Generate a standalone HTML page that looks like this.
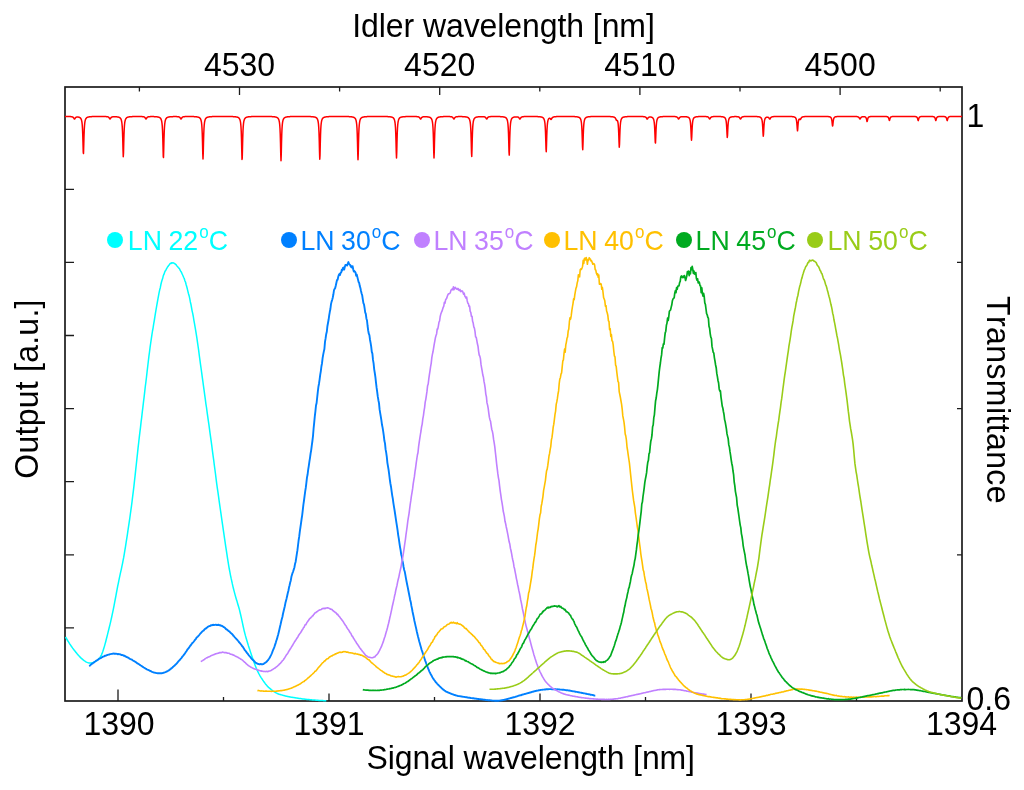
<!DOCTYPE html>
<html><head><meta charset="utf-8"><title>Output vs signal wavelength</title>
<style>
html,body{margin:0;padding:0;background:#fff;}
body{width:1024px;height:790px;position:relative;overflow:hidden;font-family:"Liberation Sans",Arial,sans-serif;color:#000;font-kerning:none;}
.t{position:absolute;font-size:32px;line-height:32px;white-space:nowrap;}
.t{transform:scaleY(1.04);}
.c{transform:translateX(-50%) scaleY(1.04);}
.dot{position:absolute;top:232.4px;width:16px;height:16px;border-radius:50%;}
.leg{position:absolute;top:225.7px;font-size:26.7px;line-height:30px;white-space:nowrap;word-spacing:-0.8px;transform:scaleY(1.04);}
.deg{font-size:17px;position:relative;top:-12.3px;line-height:0;margin:0 0 0 1px;}
</style></head><body>
<svg width="1024" height="790" viewBox="0 0 1024 790" style="position:absolute;left:0;top:0">
<g stroke="#1c1c1c" fill="none">
<rect x="65" y="87" width="897" height="614" stroke-width="1.7"/>
<path d="M118,701 V689.5 M329,701 V693.5 M540,701 V693.5 M751,701 V693.5 M223.5,701 V697 M434.5,701 V697 M645.5,701 V697 M856.5,701 V697 M239.5,87 V95 M439.7,87 V95 M639.9,87 V95 M840.1,87 V95 M139.4,87 V91.5 M339.6,87 V91.5 M539.8,87 V91.5 M740.0,87 V91.5 M940.2,87 V91.5 M65,627.9 H74 M65,554.8 H74 M65,481.7 H74 M65,408.6 H74 M65,335.5 H74 M65,262.4 H74 M65,189.3 H74 M962,554.8 H957 M962,408.6 H957 M962,262.4 H957" stroke-width="1.3"/>
</g>
<g fill="none" stroke-linejoin="round" stroke-linecap="butt">
<path d="M65.5,637.0 L66.1,638.0 L66.7,639.0 L67.3,640.0 L67.9,641.0 L68.5,641.9 L69.1,642.9 L69.7,643.9 L70.3,644.7 L70.9,645.6 L71.5,646.5 L72.1,647.3 L72.7,648.2 L73.3,648.9 L73.9,649.8 L74.5,650.6 L75.1,651.3 L75.7,652.1 L76.3,652.7 L76.9,653.5 L77.5,654.2 L78.1,654.9 L78.7,655.6 L79.3,656.3 L79.9,656.9 L80.5,657.5 L81.1,658.1 L81.7,658.7 L82.3,659.2 L82.9,659.7 L83.5,660.2 L84.1,660.6 L84.7,661.0 L85.3,661.4 L85.9,661.8 L86.5,662.1 L87.1,662.4 L87.7,662.6 L88.3,662.8 L88.9,662.9 L89.5,663.0 L90.1,663.0 L90.7,663.0 L91.3,662.9 L91.9,662.8 L92.5,662.6 L93.1,662.4 L93.7,662.1 L94.3,661.8 L94.9,661.6 L95.5,661.3 L96.1,660.9 L96.7,660.6 L97.3,660.2 L97.9,659.7 L98.5,659.2 L99.1,658.6 L99.7,657.9 L100.3,657.0 L100.9,656.0 L101.5,654.8 L102.1,653.4 L102.7,651.8 L103.3,650.0 L103.9,648.1 L104.5,646.1 L105.1,643.9 L105.7,641.7 L106.3,639.3 L106.9,637.0 L107.5,634.6 L108.1,632.1 L108.7,629.8 L109.3,627.3 L109.9,624.9 L110.5,622.3 L111.1,619.7 L111.7,617.0 L112.3,614.2 L112.9,611.4 L113.5,608.4 L114.1,605.3 L114.7,602.2 L115.3,599.0 L115.9,595.8 L116.5,592.5 L117.1,589.4 L117.7,586.2 L118.3,583.3 L118.9,580.3 L119.5,577.4 L120.1,574.7 L120.7,571.9 L121.3,569.3 L121.9,566.4 L122.5,563.6 L123.1,560.4 L123.7,557.4 L124.3,553.8 L124.9,550.2 L125.5,546.6 L126.1,542.7 L126.7,538.8 L127.3,535.1 L127.9,530.8 L128.5,526.8 L129.1,522.9 L129.7,518.8 L130.3,514.5 L130.9,510.1 L131.5,505.8 L132.1,501.2 L132.7,496.2 L133.3,491.4 L133.9,486.3 L134.5,480.9 L135.1,475.6 L135.7,469.9 L136.3,464.5 L136.9,458.8 L137.5,453.3 L138.1,447.7 L138.7,442.5 L139.3,437.2 L139.9,432.2 L140.5,427.4 L141.1,421.9 L141.7,417.3 L142.3,411.8 L142.9,407.2 L143.5,401.9 L144.1,397.1 L144.7,391.9 L145.3,386.5 L145.9,382.0 L146.5,377.0 L147.1,371.6 L147.7,366.5 L148.3,361.5 L148.9,356.3 L149.5,352.0 L150.1,347.2 L150.7,343.0 L151.3,338.8 L151.9,334.9 L152.5,331.0 L153.1,327.8 L153.7,323.9 L154.3,320.5 L154.9,316.6 L155.5,312.8 L156.1,309.3 L156.7,305.8 L157.3,302.5 L157.9,299.1 L158.5,295.9 L159.1,292.6 L159.7,289.8 L160.3,287.7 L160.9,284.5 L161.5,282.0 L162.1,280.0 L162.7,278.3 L163.3,275.7 L163.9,274.4 L164.5,272.7 L165.1,271.1 L165.7,270.5 L166.3,269.2 L166.9,268.2 L167.5,267.0 L168.1,266.4 L168.7,265.4 L169.3,264.7 L169.9,263.8 L170.5,263.3 L171.1,263.5 L171.7,262.8 L172.3,262.9 L172.9,262.8 L173.5,262.9 L174.1,263.2 L174.7,263.8 L175.3,264.0 L175.9,264.6 L176.5,265.3 L177.1,266.2 L177.7,266.8 L178.3,267.5 L178.9,268.1 L179.5,268.7 L180.1,270.2 L180.7,271.2 L181.3,272.0 L181.9,273.4 L182.5,274.7 L183.1,276.0 L183.7,277.5 L184.3,278.7 L184.9,280.8 L185.5,282.0 L186.1,284.5 L186.7,286.5 L187.3,288.8 L187.9,291.4 L188.5,293.8 L189.1,295.7 L189.7,298.3 L190.3,301.7 L190.9,304.2 L191.5,307.5 L192.1,310.8 L192.7,313.4 L193.3,316.5 L193.9,320.3 L194.5,323.6 L195.1,327.1 L195.7,330.7 L196.3,334.3 L196.9,338.1 L197.5,342.4 L198.1,346.5 L198.7,350.7 L199.3,355.5 L199.9,359.8 L200.5,364.3 L201.1,368.5 L201.7,372.9 L202.3,377.3 L202.9,381.7 L203.5,386.2 L204.1,390.4 L204.7,394.9 L205.3,399.2 L205.9,403.8 L206.5,407.5 L207.1,412.2 L207.7,416.3 L208.3,420.6 L208.9,424.7 L209.5,429.1 L210.1,433.6 L210.7,437.8 L211.3,442.2 L211.9,446.6 L212.5,451.4 L213.1,455.8 L213.7,460.2 L214.3,465.0 L214.9,469.5 L215.5,474.0 L216.1,478.9 L216.7,483.6 L217.3,487.8 L217.9,491.9 L218.5,496.2 L219.1,500.7 L219.7,504.8 L220.3,509.0 L220.9,513.2 L221.5,517.3 L222.1,521.6 L222.7,525.7 L223.3,529.8 L223.9,533.8 L224.5,538.1 L225.1,542.1 L225.7,546.3 L226.3,550.1 L226.9,554.2 L227.5,558.1 L228.1,561.8 L228.7,565.6 L229.3,569.0 L229.9,572.1 L230.5,575.3 L231.1,578.2 L231.7,580.8 L232.3,583.7 L232.9,586.3 L233.5,588.8 L234.1,591.1 L234.7,593.4 L235.3,595.6 L235.9,597.7 L236.5,599.7 L237.1,601.6 L237.7,603.7 L238.3,605.7 L238.9,607.8 L239.5,609.9 L240.1,612.5 L240.7,615.0 L241.3,617.7 L241.9,620.4 L242.5,623.2 L243.1,626.0 L243.7,628.7 L244.3,631.3 L244.9,633.6 L245.5,635.9 L246.1,638.0 L246.7,640.0 L247.3,642.0 L247.9,643.9 L248.5,645.9 L249.1,647.7 L249.7,649.6 L250.3,651.4 L250.9,653.2 L251.5,655.0 L252.1,656.8 L252.7,658.6 L253.3,660.3 L253.9,662.0 L254.5,663.6 L255.1,665.2 L255.7,666.7 L256.3,668.2 L256.9,669.6 L257.5,670.9 L258.1,672.2 L258.7,673.4 L259.3,674.5 L259.9,675.6 L260.5,676.6 L261.1,677.6 L261.7,678.5 L262.3,679.4 L262.9,680.3 L263.5,681.2 L264.1,682.0 L264.7,682.8 L265.3,683.7 L265.9,684.4 L266.5,685.1 L267.1,685.9 L267.7,686.5 L268.3,687.1 L268.9,687.7 L269.5,688.2 L270.1,688.7 L270.7,689.2 L271.3,689.7 L271.9,690.1 L272.5,690.5 L273.1,691.0 L273.7,691.4 L274.3,691.8 L274.9,692.2 L275.5,692.5 L276.1,692.9 L276.7,693.2 L277.3,693.5 L277.9,693.7 L278.5,694.0 L279.1,694.2 L279.7,694.4 L280.3,694.5 L280.9,694.7 L281.5,694.9 L282.1,695.1 L282.7,695.2 L283.3,695.4 L283.9,695.5 L284.5,695.7 L285.1,695.9 L285.7,696.0 L286.3,696.2 L286.9,696.3 L287.5,696.5 L288.1,696.6 L288.7,696.7 L289.3,696.8 L289.9,697.0 L290.5,697.1 L291.1,697.2 L291.7,697.3 L292.3,697.3 L292.9,697.4 L293.5,697.5 L294.1,697.6 L294.7,697.7 L295.3,697.8 L295.9,697.9 L296.5,698.0 L297.1,698.1 L297.7,698.2 L298.3,698.3 L298.9,698.4 L299.5,698.5 L300.1,698.5 L300.7,698.6 L301.3,698.7 L301.9,698.8 L302.5,698.9 L303.1,698.9 L303.7,699.0 L304.3,699.1 L304.9,699.2 L305.5,699.2 L306.1,699.3 L306.7,699.4 L307.3,699.4 L307.9,699.5 L308.5,699.5 L309.1,699.6 L309.7,699.7 L310.3,699.7 L310.9,699.7 L311.5,699.8 L312.1,699.9 L312.7,699.9 L313.3,700.0 L313.9,700.0 L314.5,700.1 L315.1,700.1 L315.7,700.2 L316.3,700.2 L316.9,700.2 L317.5,700.3 L318.1,700.3 L318.7,700.4 L319.3,700.4 L319.9,700.5 L320.5,700.5 L321.1,700.5 L321.7,700.6 L322.3,700.6 L322.9,700.6 L323.5,700.7 L324.1,700.7 L324.7,700.7 L325.3,700.8 L325.9,700.8 L326.3,700.8" stroke="#00ffff" stroke-width="1.5"/>
<path d="M89.2,666.2 L89.8,665.8 L90.4,665.0 L91.0,664.7 L91.6,664.1 L92.2,663.6 L92.8,663.3 L93.4,662.7 L94.0,662.5 L94.6,661.8 L95.2,661.5 L95.8,661.0 L96.4,660.6 L97.0,660.3 L97.6,659.9 L98.2,659.6 L98.8,659.1 L99.4,658.6 L100.0,658.4 L100.6,658.1 L101.2,657.8 L101.8,657.3 L102.4,657.1 L103.0,656.6 L103.6,656.6 L104.2,656.2 L104.8,655.8 L105.4,655.8 L106.0,655.7 L106.6,655.1 L107.2,655.0 L107.8,654.8 L108.4,654.6 L109.0,654.6 L109.6,654.3 L110.2,654.1 L110.8,654.1 L111.4,653.9 L112.0,653.9 L112.6,653.7 L113.2,653.6 L113.8,653.5 L114.4,653.9 L115.0,653.7 L115.6,653.8 L116.2,653.8 L116.8,653.9 L117.4,654.0 L118.0,654.3 L118.6,654.0 L119.2,654.1 L119.8,654.3 L120.4,654.4 L121.0,654.8 L121.6,655.0 L122.2,655.0 L122.8,655.1 L123.4,655.5 L124.0,655.9 L124.6,655.7 L125.2,656.4 L125.8,656.5 L126.4,657.0 L127.0,657.1 L127.6,657.5 L128.2,657.7 L128.8,658.0 L129.4,658.6 L130.0,658.9 L130.6,659.1 L131.2,659.4 L131.8,659.6 L132.4,660.1 L133.0,660.5 L133.6,660.8 L134.2,661.2 L134.8,661.5 L135.4,661.9 L136.0,662.3 L136.6,662.8 L137.2,663.3 L137.8,663.5 L138.4,663.8 L139.0,664.3 L139.6,664.7 L140.2,665.1 L140.8,665.5 L141.4,665.8 L142.0,666.4 L142.6,666.7 L143.2,667.1 L143.8,667.5 L144.4,667.8 L145.0,668.2 L145.6,668.6 L146.2,668.9 L146.8,669.3 L147.4,669.6 L148.0,669.8 L148.6,670.2 L149.2,670.4 L149.8,670.8 L150.4,671.0 L151.0,671.2 L151.6,671.6 L152.2,671.9 L152.8,672.1 L153.4,672.3 L154.0,672.5 L154.6,672.6 L155.2,672.8 L155.8,672.9 L156.4,673.1 L157.0,673.1 L157.6,673.2 L158.2,673.3 L158.8,673.3 L159.4,673.3 L160.0,673.4 L160.6,673.2 L161.2,673.3 L161.8,673.2 L162.4,673.1 L163.0,673.0 L163.6,672.7 L164.2,672.6 L164.8,672.4 L165.4,672.2 L166.0,671.9 L166.6,671.5 L167.2,671.3 L167.8,671.0 L168.4,670.7 L169.0,670.2 L169.6,669.7 L170.2,669.4 L170.8,668.9 L171.4,668.2 L172.0,668.0 L172.6,667.3 L173.2,666.8 L173.8,666.2 L174.4,665.8 L175.0,665.1 L175.6,664.5 L176.2,664.0 L176.8,663.4 L177.4,662.6 L178.0,661.9 L178.6,661.2 L179.2,660.5 L179.8,660.0 L180.4,659.2 L181.0,658.5 L181.6,657.8 L182.2,656.9 L182.8,656.2 L183.4,655.5 L184.0,654.6 L184.6,653.9 L185.2,653.0 L185.8,652.0 L186.4,651.3 L187.0,650.3 L187.6,649.3 L188.2,648.8 L188.8,647.9 L189.4,647.1 L190.0,646.1 L190.6,645.5 L191.2,644.6 L191.8,643.8 L192.4,642.9 L193.0,642.4 L193.6,641.8 L194.2,641.0 L194.8,640.1 L195.4,639.4 L196.0,638.8 L196.6,637.5 L197.2,637.2 L197.8,636.6 L198.4,635.9 L199.0,635.3 L199.6,634.5 L200.2,633.7 L200.8,633.1 L201.4,632.5 L202.0,631.7 L202.6,631.2 L203.2,630.8 L203.8,630.4 L204.4,629.5 L205.0,629.0 L205.6,628.5 L206.2,628.3 L206.8,627.6 L207.4,627.4 L208.0,626.6 L208.6,626.4 L209.2,626.1 L209.8,626.0 L210.4,625.9 L211.0,625.2 L211.6,625.1 L212.2,625.2 L212.8,624.9 L213.4,624.7 L214.0,625.1 L214.6,624.9 L215.2,624.9 L215.8,624.7 L216.4,625.0 L217.0,624.8 L217.6,625.1 L218.2,624.8 L218.8,624.8 L219.4,625.2 L220.0,625.1 L220.6,625.6 L221.2,625.7 L221.8,625.7 L222.4,626.2 L223.0,626.5 L223.6,627.1 L224.2,627.2 L224.8,627.7 L225.4,628.4 L226.0,629.1 L226.6,629.5 L227.2,629.7 L227.8,630.2 L228.4,631.0 L229.0,631.2 L229.6,631.6 L230.2,632.4 L230.8,633.0 L231.4,633.4 L232.0,633.9 L232.6,634.6 L233.2,635.6 L233.8,636.0 L234.4,636.8 L235.0,637.5 L235.6,638.2 L236.2,638.7 L236.8,639.5 L237.4,640.0 L238.0,640.8 L238.6,641.4 L239.2,642.4 L239.8,643.0 L240.4,643.7 L241.0,644.5 L241.6,645.3 L242.2,646.3 L242.8,646.8 L243.4,647.7 L244.0,648.7 L244.6,649.9 L245.2,650.5 L245.8,651.2 L246.4,652.1 L247.0,653.1 L247.6,653.6 L248.2,654.4 L248.8,655.3 L249.4,656.0 L250.0,656.7 L250.6,657.3 L251.2,658.3 L251.8,658.9 L252.4,659.4 L253.0,660.1 L253.6,660.4 L254.2,661.3 L254.8,661.8 L255.4,662.4 L256.0,662.9 L256.6,663.3 L257.2,663.5 L257.8,663.9 L258.4,664.0 L259.0,664.2 L259.6,664.2 L260.2,664.2 L260.8,664.0 L261.4,664.3 L262.0,664.2 L262.6,664.2 L263.2,664.1 L263.8,663.7 L264.4,663.2 L265.0,662.9 L265.6,662.5 L266.2,662.1 L266.8,661.6 L267.4,660.7 L268.0,660.3 L268.6,659.3 L269.2,658.5 L269.8,657.5 L270.4,656.3 L271.0,655.1 L271.6,653.8 L272.2,652.4 L272.8,650.7 L273.4,649.3 L274.0,647.9 L274.6,646.3 L275.2,644.4 L275.8,642.6 L276.4,640.5 L277.0,638.9 L277.6,636.5 L278.2,634.4 L278.8,632.0 L279.4,629.5 L280.0,626.8 L280.6,624.3 L281.2,621.5 L281.8,619.0 L282.4,617.0 L283.0,613.8 L283.6,611.2 L284.2,608.7 L284.8,606.2 L285.4,603.1 L286.0,600.7 L286.6,598.4 L287.2,595.7 L287.8,593.0 L288.4,590.8 L289.0,587.6 L289.6,585.2 L290.2,582.4 L290.8,580.4 L291.4,576.8 L292.0,574.8 L292.6,572.8 L293.2,571.3 L293.8,569.4 L294.4,567.5 L295.0,564.1 L295.6,562.0 L296.2,558.1 L296.8,554.1 L297.4,550.4 L298.0,545.5 L298.6,540.5 L299.2,536.7 L299.8,531.6 L300.4,527.5 L301.0,523.4 L301.6,519.0 L302.2,515.1 L302.8,509.8 L303.4,504.6 L304.0,500.5 L304.6,495.9 L305.2,491.3 L305.8,487.7 L306.4,482.6 L307.0,477.4 L307.6,474.5 L308.2,469.7 L308.8,465.9 L309.4,461.6 L310.0,457.9 L310.6,453.5 L311.2,450.1 L311.8,445.4 L312.4,441.0 L313.0,436.0 L313.6,428.5 L314.2,422.7 L314.8,416.3 L315.4,411.4 L316.0,405.5 L316.6,403.0 L317.2,397.3 L317.8,391.8 L318.4,386.9 L319.0,383.7 L319.6,379.6 L320.2,374.8 L320.8,371.3 L321.4,366.5 L322.0,363.4 L322.6,358.2 L323.2,354.7 L323.8,351.6 L324.4,349.0 L325.0,341.9 L325.6,338.4 L326.2,334.2 L326.8,331.8 L327.4,326.2 L328.0,323.0 L328.6,319.8 L329.2,315.3 L329.8,311.8 L330.4,309.0 L331.0,304.1 L331.6,301.6 L332.2,299.7 L332.8,297.4 L333.4,294.3 L334.0,290.1 L334.6,288.9 L335.2,287.9 L335.8,285.5 L336.4,282.8 L337.0,280.0 L337.6,279.9 L338.2,277.0 L338.8,274.9 L339.4,273.9 L340.0,275.1 L340.6,272.6 L341.2,272.6 L341.8,269.8 L342.4,270.4 L343.0,267.8 L343.6,267.5 L344.2,269.6 L344.8,267.0 L345.4,265.0 L346.0,264.9 L346.6,264.9 L347.2,265.6 L347.8,263.5 L348.4,262.1 L349.0,263.8 L349.6,264.4 L350.2,264.9 L350.8,266.7 L351.4,266.2 L352.0,267.5 L352.6,266.2 L353.2,269.2 L353.8,271.5 L354.4,271.1 L355.0,271.7 L355.6,272.8 L356.2,275.9 L356.8,274.6 L357.4,277.1 L358.0,279.6 L358.6,282.0 L359.2,283.0 L359.8,286.1 L360.4,288.0 L361.0,291.0 L361.6,293.5 L362.2,295.3 L362.8,299.3 L363.4,303.2 L364.0,304.4 L364.6,308.2 L365.2,312.3 L365.8,313.9 L366.4,318.4 L367.0,320.5 L367.6,326.0 L368.2,330.5 L368.8,333.7 L369.4,335.2 L370.0,339.7 L370.6,342.9 L371.2,346.7 L371.8,351.9 L372.4,353.6 L373.0,359.9 L373.6,363.4 L374.2,369.3 L374.8,373.0 L375.4,377.1 L376.0,382.6 L376.6,387.7 L377.2,391.8 L377.8,396.7 L378.4,400.2 L379.0,403.1 L379.6,409.4 L380.2,413.1 L380.8,416.6 L381.4,420.3 L382.0,424.8 L382.6,427.6 L383.2,431.4 L383.8,435.7 L384.4,440.8 L385.0,443.4 L385.6,449.4 L386.2,452.7 L386.8,456.9 L387.4,462.8 L388.0,466.3 L388.6,469.9 L389.2,474.5 L389.8,479.3 L390.4,483.5 L391.0,486.7 L391.6,491.1 L392.2,495.3 L392.8,498.6 L393.4,503.1 L394.0,506.8 L394.6,510.5 L395.2,514.5 L395.8,518.7 L396.4,522.6 L397.0,526.3 L397.6,530.4 L398.2,535.1 L398.8,538.7 L399.4,542.9 L400.0,546.8 L400.6,550.2 L401.2,554.4 L401.8,556.6 L402.4,560.4 L403.0,563.1 L403.6,567.0 L404.2,570.0 L404.8,571.8 L405.4,575.2 L406.0,578.7 L406.6,581.8 L407.2,584.8 L407.8,587.6 L408.4,590.8 L409.0,593.8 L409.6,596.7 L410.2,600.0 L410.8,602.2 L411.4,605.9 L412.0,608.6 L412.6,612.0 L413.2,614.8 L413.8,617.6 L414.4,620.8 L415.0,623.4 L415.6,626.1 L416.2,628.6 L416.8,631.5 L417.4,634.0 L418.0,636.5 L418.6,638.7 L419.2,641.2 L419.8,643.3 L420.4,645.4 L421.0,647.6 L421.6,649.7 L422.2,651.4 L422.8,653.3 L423.4,655.2 L424.0,657.0 L424.6,658.7 L425.2,660.6 L425.8,662.2 L426.4,664.0 L427.0,665.5 L427.6,667.1 L428.2,668.7 L428.8,670.0 L429.4,671.6 L430.0,672.7 L430.6,674.0 L431.2,675.1 L431.8,676.1 L432.4,677.2 L433.0,678.2 L433.6,679.1 L434.2,680.0 L434.8,680.8 L435.4,681.6 L436.0,682.4 L436.6,683.0 L437.2,683.8 L437.8,684.4 L438.4,685.0 L439.0,685.6 L439.6,686.2 L440.2,686.7 L440.8,687.3 L441.4,687.9 L442.0,688.4 L442.6,688.9 L443.2,689.6 L443.8,689.9 L444.4,690.5 L445.0,690.8 L445.6,691.3 L446.2,691.6 L446.8,691.9 L447.4,692.2 L448.0,692.5 L448.6,692.7 L449.2,693.0 L449.8,693.2 L450.4,693.5 L451.0,693.7 L451.6,694.0 L452.2,694.1 L452.8,694.4 L453.4,694.5 L454.0,694.8 L454.6,695.0 L455.2,695.2 L455.8,695.3 L456.4,695.5 L457.0,695.6 L457.6,695.8 L458.2,696.1 L458.8,696.1 L459.4,696.1 L460.0,696.2 L460.6,696.4 L461.2,696.5 L461.8,696.5 L462.4,696.6 L463.0,696.8 L463.6,696.9 L464.2,696.9 L464.8,697.0 L465.4,697.1 L466.0,697.2 L466.6,697.2 L467.2,697.5 L467.8,697.5 L468.4,697.6 L469.0,697.8 L469.6,697.8 L470.2,697.8 L470.8,698.0 L471.4,698.1 L472.0,698.1 L472.6,698.2 L473.2,698.3 L473.8,698.3 L474.4,698.5 L475.0,698.5 L475.6,698.6 L476.2,698.7 L476.8,698.8 L477.4,698.9 L478.0,699.0 L478.6,699.0 L479.2,699.2 L479.8,699.1 L480.4,699.3 L481.0,699.3 L481.6,699.4 L482.2,699.5 L482.8,699.5 L483.4,699.6 L484.0,699.7 L484.6,699.8 L485.2,699.8 L485.8,700.0 L486.4,700.1 L487.0,700.0 L487.6,700.1 L488.2,700.3 L488.8,700.3 L489.4,700.3 L490.0,700.3 L490.6,700.4 L491.2,700.4 L491.8,700.5 L492.4,700.6 L493.0,700.6 L493.6,700.6 L494.2,700.6 L494.8,700.7 L495.4,700.7 L496.0,700.7 L496.6,700.8 L497.2,700.7 L497.8,700.7 L498.4,700.7 L499.0,700.6 L499.6,700.6 L500.2,700.5 L500.8,700.5 L501.4,700.3 L502.0,700.3 L502.6,700.2 L503.2,700.0 L503.8,699.9 L504.4,699.8 L505.0,699.7 L505.6,699.5 L506.2,699.4 L506.8,699.2 L507.4,699.0 L508.0,698.9 L508.6,698.6 L509.2,698.5 L509.8,698.4 L510.4,698.2 L511.0,698.0 L511.6,697.8 L512.2,697.7 L512.8,697.5 L513.4,697.3 L514.0,697.2 L514.6,697.1 L515.2,696.9 L515.8,696.6 L516.4,696.5 L517.0,696.3 L517.6,696.1 L518.2,695.9 L518.8,695.7 L519.4,695.5 L520.0,695.4 L520.6,695.2 L521.2,695.2 L521.8,694.8 L522.4,694.7 L523.0,694.5 L523.6,694.4 L524.2,694.2 L524.8,694.0 L525.4,693.8 L526.0,693.6 L526.6,693.5 L527.2,693.4 L527.8,693.2 L528.4,693.0 L529.0,692.8 L529.6,692.7 L530.2,692.5 L530.8,692.3 L531.4,692.2 L532.0,691.9 L532.6,691.8 L533.2,691.7 L533.8,691.4 L534.4,691.3 L535.0,691.2 L535.6,691.0 L536.2,690.8 L536.8,690.7 L537.4,690.6 L538.0,690.5 L538.6,690.3 L539.2,690.2 L539.8,690.1 L540.4,690.0 L541.0,689.9 L541.6,689.9 L542.2,689.8 L542.8,689.6 L543.4,689.6 L544.0,689.6 L544.6,689.5 L545.2,689.5 L545.8,689.3 L546.4,689.3 L547.0,689.3 L547.6,689.2 L548.2,689.2 L548.8,689.1 L549.4,689.1 L550.0,689.1 L550.6,689.1 L551.2,689.1 L551.8,689.2 L552.4,689.2 L553.0,689.1 L553.6,689.2 L554.2,689.2 L554.8,689.2 L555.4,689.2 L556.0,689.3 L556.6,689.4 L557.2,689.4 L557.8,689.3 L558.4,689.4 L559.0,689.4 L559.6,689.5 L560.2,689.6 L560.8,689.6 L561.4,689.6 L562.0,689.7 L562.6,689.8 L563.2,689.8 L563.8,689.8 L564.4,689.9 L565.0,690.0 L565.6,690.1 L566.2,690.2 L566.8,690.3 L567.4,690.3 L568.0,690.4 L568.6,690.5 L569.2,690.5 L569.8,690.7 L570.4,690.8 L571.0,690.9 L571.6,691.0 L572.2,691.1 L572.8,691.2 L573.4,691.4 L574.0,691.4 L574.6,691.5 L575.2,691.7 L575.8,691.8 L576.4,691.9 L577.0,691.9 L577.6,692.1 L578.2,692.2 L578.8,692.3 L579.4,692.4 L580.0,692.6 L580.6,692.6 L581.2,692.7 L581.8,693.0 L582.4,693.0 L583.0,693.1 L583.6,693.3 L584.2,693.4 L584.8,693.4 L585.4,693.6 L586.0,693.7 L586.6,693.8 L587.2,694.0 L587.8,694.1 L588.4,694.2 L589.0,694.3 L589.6,694.4 L590.2,694.7 L590.8,694.6 L591.4,694.9 L592.0,694.9 L592.6,695.0 L593.2,695.2 L593.8,695.3 L594.4,695.5 L595.0,695.6 L595.3,695.6" stroke="#0080ff" stroke-width="1.9"/>
<path d="M200.8,661.6 L201.4,661.3 L202.0,660.9 L202.6,660.6 L203.2,660.1 L203.8,659.8 L204.4,659.5 L205.0,658.9 L205.6,658.4 L206.2,658.1 L206.8,657.7 L207.4,657.7 L208.0,657.1 L208.6,657.0 L209.2,656.7 L209.8,656.5 L210.4,656.1 L211.0,655.7 L211.6,655.4 L212.2,655.2 L212.8,655.0 L213.4,654.7 L214.0,654.5 L214.6,654.5 L215.2,653.9 L215.8,653.9 L216.4,653.6 L217.0,653.5 L217.6,653.4 L218.2,653.1 L218.8,653.1 L219.4,652.6 L220.0,652.8 L220.6,652.5 L221.2,652.6 L221.8,652.5 L222.4,652.1 L223.0,652.3 L223.6,652.4 L224.2,652.6 L224.8,652.5 L225.4,652.6 L226.0,652.5 L226.6,652.9 L227.2,653.1 L227.8,653.1 L228.4,653.2 L229.0,653.2 L229.6,653.7 L230.2,654.1 L230.8,654.1 L231.4,654.4 L232.0,654.5 L232.6,654.6 L233.2,655.2 L233.8,655.1 L234.4,655.5 L235.0,655.9 L235.6,656.2 L236.2,656.5 L236.8,656.8 L237.4,657.0 L238.0,657.3 L238.6,657.8 L239.2,658.1 L239.8,658.4 L240.4,658.8 L241.0,659.3 L241.6,659.5 L242.2,660.0 L242.8,660.4 L243.4,661.1 L244.0,661.6 L244.6,662.3 L245.2,662.5 L245.8,663.2 L246.4,663.9 L247.0,664.3 L247.6,664.8 L248.2,665.5 L248.8,665.8 L249.4,666.2 L250.0,666.5 L250.6,667.0 L251.2,667.4 L251.8,667.6 L252.4,667.9 L253.0,668.3 L253.6,668.6 L254.2,668.7 L254.8,669.0 L255.4,669.3 L256.0,669.3 L256.6,669.6 L257.2,669.9 L257.8,670.0 L258.4,670.1 L259.0,670.4 L259.6,670.6 L260.2,670.9 L260.8,670.7 L261.4,671.2 L262.0,671.1 L262.6,671.3 L263.2,671.4 L263.8,671.5 L264.4,671.5 L265.0,671.4 L265.6,671.6 L266.2,671.5 L266.8,671.3 L267.4,671.7 L268.0,671.4 L268.6,671.4 L269.2,671.0 L269.8,671.0 L270.4,670.8 L271.0,670.5 L271.6,670.1 L272.2,669.7 L272.8,669.5 L273.4,668.9 L274.0,668.6 L274.6,668.3 L275.2,667.8 L275.8,667.3 L276.4,666.9 L277.0,666.5 L277.6,666.0 L278.2,665.3 L278.8,664.9 L279.4,664.1 L280.0,663.6 L280.6,663.1 L281.2,662.2 L281.8,661.6 L282.4,660.8 L283.0,660.2 L283.6,659.5 L284.2,658.4 L284.8,657.7 L285.4,656.6 L286.0,655.6 L286.6,654.6 L287.2,654.0 L287.8,653.2 L288.4,652.0 L289.0,650.9 L289.6,650.1 L290.2,649.0 L290.8,648.2 L291.4,647.2 L292.0,646.2 L292.6,645.3 L293.2,644.2 L293.8,643.2 L294.4,642.1 L295.0,641.3 L295.6,640.2 L296.2,639.4 L296.8,638.4 L297.4,637.6 L298.0,636.7 L298.6,635.4 L299.2,634.6 L299.8,633.6 L300.4,632.9 L301.0,632.1 L301.6,631.0 L302.2,629.9 L302.8,629.3 L303.4,627.8 L304.0,627.4 L304.6,626.0 L305.2,624.7 L305.8,624.8 L306.4,623.7 L307.0,622.3 L307.6,621.7 L308.2,620.8 L308.8,620.1 L309.4,619.0 L310.0,618.4 L310.6,618.0 L311.2,617.2 L311.8,616.8 L312.4,615.9 L313.0,615.8 L313.6,614.5 L314.2,614.1 L314.8,613.1 L315.4,612.7 L316.0,612.7 L316.6,611.7 L317.2,611.6 L317.8,611.1 L318.4,610.5 L319.0,610.3 L319.6,610.0 L320.2,609.7 L320.8,609.7 L321.4,609.4 L322.0,608.8 L322.6,608.5 L323.2,608.6 L323.8,608.3 L324.4,608.4 L325.0,608.7 L325.6,608.2 L326.2,608.0 L326.8,608.0 L327.4,607.9 L328.0,607.9 L328.6,608.1 L329.2,608.4 L329.8,608.6 L330.4,609.1 L331.0,609.1 L331.6,609.5 L332.2,609.6 L332.8,610.7 L333.4,610.8 L334.0,611.6 L334.6,611.8 L335.2,612.5 L335.8,612.6 L336.4,613.4 L337.0,614.4 L337.6,614.1 L338.2,615.3 L338.8,616.1 L339.4,616.5 L340.0,617.4 L340.6,618.3 L341.2,618.8 L341.8,619.9 L342.4,620.5 L343.0,621.4 L343.6,622.3 L344.2,623.3 L344.8,624.3 L345.4,625.2 L346.0,625.8 L346.6,627.3 L347.2,628.1 L347.8,629.0 L348.4,629.7 L349.0,630.7 L349.6,631.8 L350.2,632.7 L350.8,633.3 L351.4,634.7 L352.0,636.1 L352.6,636.3 L353.2,637.7 L353.8,638.6 L354.4,639.5 L355.0,640.7 L355.6,641.3 L356.2,642.4 L356.8,643.6 L357.4,644.3 L358.0,645.1 L358.6,646.1 L359.2,646.9 L359.8,648.0 L360.4,648.5 L361.0,649.5 L361.6,650.1 L362.2,651.1 L362.8,651.8 L363.4,652.2 L364.0,653.3 L364.6,653.9 L365.2,654.7 L365.8,655.5 L366.4,655.7 L367.0,656.1 L367.6,656.7 L368.2,656.9 L368.8,657.3 L369.4,657.3 L370.0,657.4 L370.6,657.6 L371.2,657.8 L371.8,657.8 L372.4,657.7 L373.0,657.6 L373.6,657.3 L374.2,657.0 L374.8,656.9 L375.4,656.1 L376.0,655.4 L376.6,654.9 L377.2,654.3 L377.8,653.5 L378.4,652.5 L379.0,651.4 L379.6,650.4 L380.2,649.0 L380.8,647.8 L381.4,646.7 L382.0,645.0 L382.6,643.5 L383.2,641.9 L383.8,640.0 L384.4,638.0 L385.0,636.5 L385.6,634.3 L386.2,632.1 L386.8,630.2 L387.4,628.0 L388.0,625.5 L388.6,623.3 L389.2,620.8 L389.8,617.8 L390.4,615.4 L391.0,612.7 L391.6,609.9 L392.2,606.8 L392.8,604.3 L393.4,601.6 L394.0,598.9 L394.6,595.8 L395.2,593.5 L395.8,590.2 L396.4,587.7 L397.0,585.4 L397.6,582.1 L398.2,579.5 L398.8,577.3 L399.4,574.2 L400.0,571.4 L400.6,568.8 L401.2,566.1 L401.8,561.9 L402.4,559.1 L403.0,555.6 L403.6,551.8 L404.2,547.8 L404.8,543.5 L405.4,539.6 L406.0,534.6 L406.6,530.5 L407.2,526.2 L407.8,521.2 L408.4,517.3 L409.0,513.8 L409.6,509.1 L410.2,504.5 L410.8,500.7 L411.4,496.1 L412.0,492.7 L412.6,488.9 L413.2,483.9 L413.8,480.1 L414.4,476.7 L415.0,471.7 L415.6,468.0 L416.2,463.1 L416.8,459.0 L417.4,455.0 L418.0,452.5 L418.6,446.7 L419.2,442.4 L419.8,438.3 L420.4,434.5 L421.0,431.0 L421.6,426.7 L422.2,424.1 L422.8,418.8 L423.4,415.8 L424.0,411.2 L424.6,407.6 L425.2,402.2 L425.8,399.3 L426.4,395.4 L427.0,391.2 L427.6,385.7 L428.2,384.0 L428.8,378.8 L429.4,374.7 L430.0,370.8 L430.6,366.7 L431.2,363.3 L431.8,357.9 L432.4,354.4 L433.0,351.8 L433.6,348.2 L434.2,344.4 L434.8,341.1 L435.4,337.8 L436.0,335.6 L436.6,333.9 L437.2,329.1 L437.8,328.9 L438.4,325.8 L439.0,322.2 L439.6,321.0 L440.2,316.5 L440.8,314.1 L441.4,312.4 L442.0,311.2 L442.6,309.3 L443.2,307.3 L443.8,306.1 L444.4,302.2 L445.0,303.2 L445.6,299.8 L446.2,299.1 L446.8,298.0 L447.4,296.0 L448.0,294.6 L448.6,293.8 L449.2,293.7 L449.8,293.4 L450.4,292.4 L451.0,290.1 L451.6,289.6 L452.2,288.9 L452.8,289.8 L453.4,286.8 L454.0,289.8 L454.6,287.8 L455.2,287.3 L455.8,288.4 L456.4,289.1 L457.0,288.4 L457.6,289.3 L458.2,288.6 L458.8,290.1 L459.4,290.5 L460.0,289.5 L460.6,291.6 L461.2,290.9 L461.8,291.4 L462.4,291.0 L463.0,292.4 L463.6,294.3 L464.2,293.1 L464.8,296.1 L465.4,296.9 L466.0,298.1 L466.6,297.0 L467.2,300.7 L467.8,303.1 L468.4,303.6 L469.0,306.4 L469.6,306.1 L470.2,311.3 L470.8,312.3 L471.4,316.3 L472.0,316.2 L472.6,321.3 L473.2,323.1 L473.8,326.9 L474.4,328.2 L475.0,331.4 L475.6,337.0 L476.2,337.2 L476.8,340.3 L477.4,343.8 L478.0,346.2 L478.6,351.3 L479.2,355.0 L479.8,356.1 L480.4,358.6 L481.0,364.4 L481.6,367.8 L482.2,371.1 L482.8,375.0 L483.4,377.0 L484.0,381.4 L484.6,384.3 L485.2,388.3 L485.8,394.1 L486.4,396.7 L487.0,402.9 L487.6,405.1 L488.2,408.4 L488.8,413.2 L489.4,417.4 L490.0,419.7 L490.6,421.6 L491.2,425.8 L491.8,429.5 L492.4,431.4 L493.0,434.6 L493.6,439.4 L494.2,442.9 L494.8,446.8 L495.4,452.5 L496.0,457.6 L496.6,463.6 L497.2,468.4 L497.8,473.4 L498.4,477.6 L499.0,480.7 L499.6,486.2 L500.2,490.8 L500.8,494.8 L501.4,499.3 L502.0,502.6 L502.6,506.3 L503.2,511.0 L503.8,513.7 L504.4,516.6 L505.0,521.3 L505.6,523.5 L506.2,526.7 L506.8,529.3 L507.4,532.3 L508.0,535.4 L508.6,538.8 L509.2,542.1 L509.8,544.0 L510.4,548.2 L511.0,550.5 L511.6,553.6 L512.2,557.2 L512.8,560.0 L513.4,562.5 L514.0,566.7 L514.6,568.8 L515.2,572.2 L515.8,575.2 L516.4,578.6 L517.0,581.1 L517.6,584.5 L518.2,587.0 L518.8,590.4 L519.4,592.9 L520.0,595.9 L520.6,599.5 L521.2,602.1 L521.8,605.1 L522.4,608.7 L523.0,611.3 L523.6,614.1 L524.2,617.4 L524.8,619.9 L525.4,623.1 L526.0,625.6 L526.6,627.7 L527.2,630.0 L527.8,632.4 L528.4,634.6 L529.0,636.6 L529.6,639.1 L530.2,641.0 L530.8,643.4 L531.4,645.7 L532.0,647.9 L532.6,650.1 L533.2,652.1 L533.8,654.4 L534.4,656.3 L535.0,658.3 L535.6,660.1 L536.2,661.9 L536.8,663.8 L537.4,665.3 L538.0,667.0 L538.6,668.5 L539.2,669.9 L539.8,671.3 L540.4,672.5 L541.0,673.7 L541.6,675.0 L542.2,676.1 L542.8,677.2 L543.4,678.2 L544.0,679.2 L544.6,680.1 L545.2,681.0 L545.8,681.7 L546.4,682.4 L547.0,683.1 L547.6,683.7 L548.2,684.4 L548.8,684.9 L549.4,685.6 L550.0,686.1 L550.6,686.7 L551.2,687.1 L551.8,687.6 L552.4,688.2 L553.0,688.5 L553.6,688.8 L554.2,689.2 L554.8,689.6 L555.4,690.0 L556.0,690.2 L556.6,690.6 L557.2,690.8 L557.8,691.2 L558.4,691.6 L559.0,691.9 L559.6,692.1 L560.2,692.4 L560.8,692.7 L561.4,692.9 L562.0,693.2 L562.6,693.5 L563.2,693.6 L563.8,694.0 L564.4,694.1 L565.0,694.3 L565.6,694.4 L566.2,694.7 L566.8,694.8 L567.4,694.9 L568.0,695.1 L568.6,695.1 L569.2,695.3 L569.8,695.4 L570.4,695.6 L571.0,695.7 L571.6,695.8 L572.2,696.0 L572.8,696.1 L573.4,696.2 L574.0,696.3 L574.6,696.4 L575.2,696.5 L575.8,696.6 L576.4,696.7 L577.0,696.8 L577.6,696.9 L578.2,697.0 L578.8,697.2 L579.4,697.3 L580.0,697.4 L580.6,697.4 L581.2,697.6 L581.8,697.6 L582.4,697.7 L583.0,697.8 L583.6,697.8 L584.2,698.0 L584.8,698.0 L585.4,698.1 L586.0,698.1 L586.6,698.2 L587.2,698.2 L587.8,698.4 L588.4,698.4 L589.0,698.5 L589.6,698.6 L590.2,698.7 L590.8,698.6 L591.4,698.7 L592.0,698.7 L592.6,698.8 L593.2,698.9 L593.8,698.9 L594.4,699.0 L595.0,699.0 L595.6,699.0 L596.2,699.1 L596.8,699.2 L597.4,699.1 L598.0,699.2 L598.6,699.2 L599.2,699.3 L599.8,699.3 L600.4,699.3 L601.0,699.3 L601.6,699.4 L602.2,699.4 L602.8,699.4 L603.4,699.4 L604.0,699.4 L604.6,699.4 L605.2,699.5 L605.8,699.5 L606.4,699.4 L607.0,699.5 L607.6,699.5 L608.2,699.4 L608.8,699.4 L609.4,699.5 L610.0,699.4 L610.6,699.3 L611.2,699.2 L611.8,699.2 L612.4,699.2 L613.0,699.1 L613.6,699.1 L614.2,699.0 L614.8,698.9 L615.4,698.9 L616.0,698.8 L616.6,698.7 L617.2,698.7 L617.8,698.6 L618.4,698.4 L619.0,698.3 L619.6,698.2 L620.2,698.2 L620.8,698.0 L621.4,697.8 L622.0,697.7 L622.6,697.6 L623.2,697.5 L623.8,697.4 L624.4,697.3 L625.0,697.1 L625.6,697.0 L626.2,696.8 L626.8,696.7 L627.4,696.6 L628.0,696.6 L628.6,696.3 L629.2,696.1 L629.8,696.0 L630.4,695.9 L631.0,695.7 L631.6,695.6 L632.2,695.5 L632.8,695.4 L633.4,695.2 L634.0,695.1 L634.6,695.0 L635.2,694.8 L635.8,694.7 L636.4,694.5 L637.0,694.4 L637.6,694.4 L638.2,694.1 L638.8,694.1 L639.4,694.0 L640.0,693.8 L640.6,693.7 L641.2,693.5 L641.8,693.4 L642.4,693.3 L643.0,693.1 L643.6,692.9 L644.2,692.8 L644.8,692.7 L645.4,692.6 L646.0,692.4 L646.6,692.3 L647.2,692.1 L647.8,692.0 L648.4,691.9 L649.0,691.7 L649.6,691.5 L650.2,691.5 L650.8,691.4 L651.4,691.1 L652.0,691.0 L652.6,690.9 L653.2,690.7 L653.8,690.5 L654.4,690.5 L655.0,690.4 L655.6,690.2 L656.2,690.2 L656.8,690.0 L657.4,689.9 L658.0,689.8 L658.6,689.7 L659.2,689.6 L659.8,689.6 L660.4,689.5 L661.0,689.5 L661.6,689.5 L662.2,689.5 L662.8,689.4 L663.4,689.4 L664.0,689.4 L664.6,689.4 L665.2,689.3 L665.8,689.4 L666.4,689.3 L667.0,689.3 L667.6,689.2 L668.2,689.3 L668.8,689.3 L669.4,689.4 L670.0,689.3 L670.6,689.3 L671.2,689.3 L671.8,689.3 L672.4,689.3 L673.0,689.4 L673.6,689.3 L674.2,689.4 L674.8,689.4 L675.4,689.4 L676.0,689.5 L676.6,689.5 L677.2,689.7 L677.8,689.6 L678.4,689.8 L679.0,689.8 L679.6,689.8 L680.2,689.8 L680.8,690.0 L681.4,690.1 L682.0,690.1 L682.6,690.2 L683.2,690.4 L683.8,690.5 L684.4,690.7 L685.0,690.7 L685.6,690.8 L686.2,690.9 L686.8,691.2 L687.4,691.2 L688.0,691.2 L688.6,691.4 L689.2,691.6 L689.8,691.8 L690.4,691.8 L691.0,692.0 L691.6,692.1 L692.2,692.3 L692.8,692.3 L693.4,692.5 L694.0,692.6 L694.6,692.7 L695.2,692.8 L695.8,692.9 L696.4,692.9 L697.0,693.1 L697.6,693.1 L698.2,693.3 L698.8,693.4 L699.4,693.5 L700.0,693.5 L700.6,693.7 L701.2,693.8 L701.8,693.9 L702.4,694.0 L703.0,694.1 L703.6,694.1 L704.2,694.3 L704.8,694.3 L705.4,694.5 L706.0,694.5 L706.6,694.6" stroke="#c080ff" stroke-width="1.6"/>
<path d="M257.4,690.6 L258.0,690.6 L258.6,690.4 L259.2,690.7 L259.8,690.7 L260.4,690.9 L261.0,691.1 L261.6,690.9 L262.2,691.0 L262.8,691.0 L263.4,691.1 L264.0,691.2 L264.6,691.2 L265.2,691.1 L265.8,691.3 L266.4,691.1 L267.0,691.3 L267.6,691.3 L268.2,691.3 L268.8,691.2 L269.4,691.2 L270.0,691.3 L270.6,691.3 L271.2,691.4 L271.8,691.2 L272.4,691.3 L273.0,691.3 L273.6,691.3 L274.2,691.3 L274.8,691.3 L275.4,691.2 L276.0,691.2 L276.6,691.1 L277.2,691.2 L277.8,690.8 L278.4,691.0 L279.0,690.9 L279.6,690.8 L280.2,690.7 L280.8,690.5 L281.4,690.6 L282.0,690.5 L282.6,690.5 L283.2,690.2 L283.8,690.3 L284.4,690.1 L285.0,690.0 L285.6,689.8 L286.2,689.7 L286.8,689.5 L287.4,689.4 L288.0,689.2 L288.6,689.0 L289.2,688.7 L289.8,688.6 L290.4,688.4 L291.0,688.2 L291.6,688.1 L292.2,687.8 L292.8,687.5 L293.4,687.1 L294.0,686.9 L294.6,686.6 L295.2,686.5 L295.8,686.1 L296.4,685.9 L297.0,685.5 L297.6,685.3 L298.2,685.1 L298.8,684.6 L299.4,684.3 L300.0,683.9 L300.6,683.7 L301.2,683.1 L301.8,682.7 L302.4,682.3 L303.0,681.9 L303.6,681.6 L304.2,681.4 L304.8,680.6 L305.4,680.3 L306.0,679.8 L306.6,679.2 L307.2,678.8 L307.8,678.2 L308.4,677.7 L309.0,677.4 L309.6,676.5 L310.2,676.2 L310.8,675.6 L311.4,675.0 L312.0,674.5 L312.6,674.0 L313.2,673.3 L313.8,672.8 L314.4,672.2 L315.0,671.2 L315.6,671.1 L316.2,670.6 L316.8,669.7 L317.4,669.0 L318.0,668.0 L318.6,667.5 L319.2,666.7 L319.8,666.0 L320.4,665.6 L321.0,664.6 L321.6,664.0 L322.2,663.1 L322.8,662.8 L323.4,662.2 L324.0,661.5 L324.6,660.9 L325.2,660.9 L325.8,659.8 L326.4,659.3 L327.0,658.8 L327.6,658.8 L328.2,658.5 L328.8,657.7 L329.4,657.1 L330.0,656.7 L330.6,656.6 L331.2,655.9 L331.8,656.0 L332.4,655.7 L333.0,655.1 L333.6,654.9 L334.2,654.6 L334.8,654.5 L335.4,653.7 L336.0,654.0 L336.6,653.4 L337.2,653.1 L337.8,653.1 L338.4,652.8 L339.0,652.5 L339.6,652.2 L340.2,652.1 L340.8,652.5 L341.4,652.5 L342.0,652.0 L342.6,652.1 L343.2,651.6 L343.8,651.7 L344.4,651.8 L345.0,651.6 L345.6,651.7 L346.2,652.1 L346.8,652.1 L347.4,652.0 L348.0,652.4 L348.6,652.4 L349.2,652.8 L349.8,652.7 L350.4,652.7 L351.0,652.9 L351.6,653.0 L352.2,653.0 L352.8,653.2 L353.4,653.5 L354.0,653.6 L354.6,653.9 L355.2,653.3 L355.8,653.7 L356.4,653.9 L357.0,654.1 L357.6,654.1 L358.2,654.2 L358.8,654.6 L359.4,654.6 L360.0,654.5 L360.6,655.1 L361.2,655.2 L361.8,655.1 L362.4,655.7 L363.0,655.7 L363.6,656.4 L364.2,656.5 L364.8,656.8 L365.4,657.3 L366.0,657.7 L366.6,658.4 L367.2,658.8 L367.8,659.3 L368.4,659.7 L369.0,659.6 L369.6,660.8 L370.2,661.0 L370.8,661.9 L371.4,662.6 L372.0,663.0 L372.6,663.4 L373.2,664.0 L373.8,664.5 L374.4,665.0 L375.0,665.5 L375.6,666.0 L376.2,666.8 L376.8,667.1 L377.4,667.7 L378.0,668.0 L378.6,668.5 L379.2,669.0 L379.8,669.5 L380.4,670.0 L381.0,670.4 L381.6,670.7 L382.2,671.1 L382.8,671.8 L383.4,672.0 L384.0,672.4 L384.6,673.0 L385.2,673.3 L385.8,673.6 L386.4,673.8 L387.0,674.4 L387.6,674.5 L388.2,674.8 L388.8,674.9 L389.4,675.0 L390.0,675.3 L390.6,675.7 L391.2,675.9 L391.8,676.0 L392.4,676.1 L393.0,676.2 L393.6,676.5 L394.2,676.5 L394.8,676.8 L395.4,676.9 L396.0,677.2 L396.6,677.0 L397.2,676.8 L397.8,676.8 L398.4,676.5 L399.0,676.8 L399.6,676.8 L400.2,676.8 L400.8,676.7 L401.4,676.6 L402.0,676.4 L402.6,676.3 L403.2,676.2 L403.8,675.7 L404.4,675.5 L405.0,675.1 L405.6,675.2 L406.2,674.8 L406.8,674.4 L407.4,673.9 L408.0,673.6 L408.6,673.2 L409.2,672.8 L409.8,672.3 L410.4,671.9 L411.0,671.2 L411.6,670.8 L412.2,670.2 L412.8,669.5 L413.4,668.9 L414.0,668.2 L414.6,667.7 L415.2,666.9 L415.8,666.3 L416.4,665.5 L417.0,664.6 L417.6,664.3 L418.2,663.2 L418.8,662.8 L419.4,661.9 L420.0,660.7 L420.6,660.0 L421.2,659.2 L421.8,658.2 L422.4,657.2 L423.0,656.7 L423.6,655.5 L424.2,654.7 L424.8,653.6 L425.4,652.8 L426.0,651.6 L426.6,650.9 L427.2,650.0 L427.8,649.0 L428.4,647.9 L429.0,646.8 L429.6,646.1 L430.2,645.2 L430.8,644.0 L431.4,642.9 L432.0,642.3 L432.6,641.8 L433.2,640.1 L433.8,639.3 L434.4,638.3 L435.0,636.5 L435.6,636.4 L436.2,635.2 L436.8,634.9 L437.4,633.6 L438.0,632.6 L438.6,632.1 L439.2,631.5 L439.8,630.6 L440.4,630.1 L441.0,629.1 L441.6,628.9 L442.2,628.7 L442.8,628.5 L443.4,627.6 L444.0,626.9 L444.6,626.8 L445.2,626.3 L445.8,626.1 L446.4,625.5 L447.0,624.8 L447.6,624.6 L448.2,624.2 L448.8,624.0 L449.4,623.7 L450.0,623.2 L450.6,622.5 L451.2,622.9 L451.8,622.3 L452.4,622.9 L453.0,622.8 L453.6,622.2 L454.2,623.0 L454.8,623.1 L455.4,622.9 L456.0,623.5 L456.6,623.7 L457.2,622.7 L457.8,623.7 L458.4,623.7 L459.0,623.9 L459.6,624.3 L460.2,624.1 L460.8,624.5 L461.4,624.8 L462.0,625.3 L462.6,626.0 L463.2,626.1 L463.8,626.7 L464.4,627.8 L465.0,628.1 L465.6,628.7 L466.2,628.5 L466.8,629.4 L467.4,630.1 L468.0,630.8 L468.6,631.2 L469.2,632.2 L469.8,632.5 L470.4,633.0 L471.0,633.6 L471.6,634.3 L472.2,634.5 L472.8,635.5 L473.4,635.9 L474.0,636.4 L474.6,636.9 L475.2,637.7 L475.8,638.5 L476.4,639.1 L477.0,639.7 L477.6,640.6 L478.2,641.2 L478.8,642.3 L479.4,642.8 L480.0,643.1 L480.6,644.8 L481.2,645.3 L481.8,645.8 L482.4,646.9 L483.0,647.6 L483.6,649.1 L484.2,649.5 L484.8,649.9 L485.4,651.2 L486.0,651.8 L486.6,653.1 L487.2,653.3 L487.8,653.8 L488.4,655.1 L489.0,655.9 L489.6,656.6 L490.2,657.1 L490.8,658.4 L491.4,659.4 L492.0,659.4 L492.6,660.5 L493.2,660.7 L493.8,661.6 L494.4,661.6 L495.0,661.8 L495.6,662.3 L496.2,662.5 L496.8,662.5 L497.4,663.0 L498.0,663.0 L498.6,663.0 L499.2,663.7 L499.8,663.5 L500.4,663.5 L501.0,663.7 L501.6,663.4 L502.2,663.5 L502.8,663.6 L503.4,663.5 L504.0,663.4 L504.6,663.4 L505.2,662.9 L505.8,662.8 L506.4,662.5 L507.0,661.8 L507.6,661.7 L508.2,661.0 L508.8,660.9 L509.4,660.2 L510.0,659.5 L510.6,658.5 L511.2,657.9 L511.8,656.8 L512.4,656.0 L513.0,654.7 L513.6,653.4 L514.2,652.4 L514.8,651.0 L515.4,649.2 L516.0,648.0 L516.6,646.0 L517.2,644.2 L517.8,642.6 L518.4,640.5 L519.0,638.6 L519.6,636.7 L520.2,635.3 L520.8,633.2 L521.4,630.6 L522.0,629.2 L522.6,626.4 L523.2,624.2 L523.8,621.8 L524.4,618.6 L525.0,616.2 L525.6,612.0 L526.2,608.0 L526.8,605.5 L527.4,601.2 L528.0,597.8 L528.6,593.0 L529.2,591.4 L529.8,587.8 L530.4,584.2 L531.0,580.5 L531.6,577.0 L532.2,571.8 L532.8,568.2 L533.4,562.9 L534.0,558.8 L534.6,555.4 L535.2,550.6 L535.8,545.0 L536.4,541.8 L537.0,537.0 L537.6,532.1 L538.2,528.8 L538.8,523.8 L539.4,518.6 L540.0,514.8 L540.6,513.1 L541.2,506.2 L541.8,503.7 L542.4,500.0 L543.0,496.1 L543.6,490.4 L544.2,487.3 L544.8,483.8 L545.4,480.6 L546.0,475.2 L546.6,470.7 L547.2,469.1 L547.8,465.4 L548.4,460.8 L549.0,456.0 L549.6,453.4 L550.2,449.3 L550.8,446.3 L551.4,439.9 L552.0,437.4 L552.6,432.7 L553.2,427.1 L553.8,424.2 L554.4,419.4 L555.0,414.4 L555.6,411.1 L556.2,404.4 L556.8,401.9 L557.4,398.4 L558.0,394.0 L558.6,390.9 L559.2,383.6 L559.8,379.1 L560.4,377.7 L561.0,374.2 L561.6,372.9 L562.2,366.9 L562.8,361.0 L563.4,359.9 L564.0,353.7 L564.6,349.1 L565.2,352.1 L565.8,344.9 L566.4,342.1 L567.0,338.3 L567.6,336.9 L568.2,330.9 L568.8,329.0 L569.4,321.7 L570.0,317.7 L570.6,319.2 L571.2,315.9 L571.8,310.9 L572.4,307.0 L573.0,303.6 L573.6,298.8 L574.2,299.6 L574.8,294.8 L575.4,291.4 L576.0,288.2 L576.6,286.6 L577.2,282.9 L577.8,280.8 L578.4,274.7 L579.0,275.7 L579.6,276.9 L580.2,269.8 L580.8,268.9 L581.4,269.4 L582.0,268.1 L582.6,266.2 L583.2,260.4 L583.8,263.4 L584.4,258.7 L585.0,258.2 L585.6,259.9 L586.2,257.6 L586.8,259.6 L587.4,264.3 L588.0,259.9 L588.6,260.3 L589.2,257.7 L589.8,259.0 L590.4,259.0 L591.0,260.9 L591.6,260.7 L592.2,262.4 L592.8,264.2 L593.4,263.6 L594.0,263.7 L594.6,264.9 L595.2,269.6 L595.8,270.1 L596.4,273.3 L597.0,274.8 L597.6,273.7 L598.2,277.3 L598.8,275.1 L599.4,284.1 L600.0,284.1 L600.6,283.5 L601.2,284.0 L601.8,289.3 L602.4,287.5 L603.0,292.1 L603.6,297.6 L604.2,299.0 L604.8,300.8 L605.4,306.2 L606.0,305.6 L606.6,311.0 L607.2,312.7 L607.8,315.2 L608.4,320.7 L609.0,321.5 L609.6,329.7 L610.2,328.7 L610.8,336.4 L611.4,334.6 L612.0,340.8 L612.6,341.4 L613.2,344.9 L613.8,351.1 L614.4,355.9 L615.0,357.0 L615.6,365.1 L616.2,366.4 L616.8,372.1 L617.4,376.8 L618.0,381.5 L618.6,382.4 L619.2,391.6 L619.8,394.5 L620.4,397.5 L621.0,401.0 L621.6,404.4 L622.2,409.1 L622.8,415.9 L623.4,418.9 L624.0,422.2 L624.6,427.2 L625.2,434.0 L625.8,436.0 L626.4,440.0 L627.0,446.8 L627.6,450.5 L628.2,454.8 L628.8,459.0 L629.4,462.9 L630.0,468.5 L630.6,474.4 L631.2,480.0 L631.8,485.7 L632.4,491.0 L633.0,495.7 L633.6,500.4 L634.2,503.9 L634.8,507.3 L635.4,513.1 L636.0,517.0 L636.6,521.5 L637.2,526.0 L637.8,529.5 L638.4,534.0 L639.0,539.2 L639.6,544.0 L640.2,548.3 L640.8,553.8 L641.4,557.8 L642.0,561.4 L642.6,565.6 L643.2,570.0 L643.8,571.5 L644.4,575.7 L645.0,578.9 L645.6,582.0 L646.2,583.9 L646.8,588.4 L647.4,590.5 L648.0,593.4 L648.6,596.4 L649.2,599.7 L649.8,602.4 L650.4,605.1 L651.0,608.5 L651.6,610.3 L652.2,612.9 L652.8,616.2 L653.4,618.7 L654.0,621.3 L654.6,622.9 L655.2,626.0 L655.8,628.0 L656.4,630.6 L657.0,631.7 L657.6,634.2 L658.2,635.9 L658.8,637.4 L659.4,639.4 L660.0,641.6 L660.6,642.8 L661.2,644.3 L661.8,646.3 L662.4,647.9 L663.0,649.5 L663.6,650.6 L664.2,652.3 L664.8,654.0 L665.4,655.2 L666.0,656.6 L666.6,658.4 L667.2,660.0 L667.8,661.0 L668.4,662.2 L669.0,663.8 L669.6,665.2 L670.2,666.7 L670.8,668.1 L671.4,669.2 L672.0,670.3 L672.6,671.5 L673.2,672.3 L673.8,673.4 L674.4,674.3 L675.0,675.6 L675.6,676.2 L676.2,676.8 L676.8,677.6 L677.4,678.4 L678.0,679.1 L678.6,679.9 L679.2,680.6 L679.8,681.4 L680.4,682.0 L681.0,682.6 L681.6,683.2 L682.2,683.9 L682.8,684.6 L683.4,685.2 L684.0,685.9 L684.6,686.3 L685.2,687.0 L685.8,687.4 L686.4,687.9 L687.0,688.2 L687.6,688.7 L688.2,689.3 L688.8,689.8 L689.4,690.1 L690.0,690.6 L690.6,690.9 L691.2,691.3 L691.8,691.6 L692.4,692.1 L693.0,692.4 L693.6,692.6 L694.2,692.9 L694.8,693.3 L695.4,693.5 L696.0,693.6 L696.6,694.0 L697.2,694.1 L697.8,694.2 L698.4,694.5 L699.0,694.6 L699.6,694.7 L700.2,694.9 L700.8,694.9 L701.4,695.1 L702.0,695.1 L702.6,695.5 L703.2,695.4 L703.8,695.7 L704.4,695.8 L705.0,695.9 L705.6,696.0 L706.2,696.2 L706.8,696.3 L707.4,696.5 L708.0,696.5 L708.6,696.7 L709.2,696.6 L709.8,696.8 L710.4,696.9 L711.0,696.9 L711.6,697.1 L712.2,697.2 L712.8,697.3 L713.4,697.4 L714.0,697.4 L714.6,697.5 L715.2,697.7 L715.8,697.6 L716.4,697.7 L717.0,698.0 L717.6,697.7 L718.2,698.0 L718.8,698.2 L719.4,698.1 L720.0,698.5 L720.6,698.2 L721.2,698.6 L721.8,698.7 L722.4,698.7 L723.0,698.7 L723.6,698.8 L724.2,698.7 L724.8,698.9 L725.4,698.9 L726.0,699.0 L726.6,699.1 L727.2,699.0 L727.8,699.2 L728.4,699.3 L729.0,699.2 L729.6,699.4 L730.2,699.4 L730.8,699.3 L731.4,699.5 L732.0,699.5 L732.6,699.5 L733.2,699.6 L733.8,699.6 L734.4,699.7 L735.0,699.6 L735.6,699.8 L736.2,699.7 L736.8,699.8 L737.4,699.7 L738.0,699.8 L738.6,699.7 L739.2,699.9 L739.8,699.9 L740.4,700.0 L741.0,699.9 L741.6,699.8 L742.2,699.8 L742.8,699.8 L743.4,699.7 L744.0,699.8 L744.6,699.7 L745.2,699.5 L745.8,699.5 L746.4,699.6 L747.0,699.4 L747.6,699.3 L748.2,699.4 L748.8,699.1 L749.4,699.1 L750.0,698.9 L750.6,698.7 L751.2,698.8 L751.8,698.5 L752.4,698.5 L753.0,698.3 L753.6,698.3 L754.2,698.1 L754.8,698.0 L755.4,697.7 L756.0,697.7 L756.6,697.5 L757.2,697.5 L757.8,697.4 L758.4,697.2 L759.0,697.3 L759.6,697.0 L760.2,696.9 L760.8,696.7 L761.4,696.6 L762.0,696.5 L762.6,696.4 L763.2,696.1 L763.8,696.2 L764.4,696.0 L765.0,695.9 L765.6,695.7 L766.2,695.5 L766.8,695.3 L767.4,695.4 L768.0,695.2 L768.6,694.9 L769.2,694.9 L769.8,694.7 L770.4,694.5 L771.0,694.3 L771.6,694.2 L772.2,694.2 L772.8,694.1 L773.4,693.9 L774.0,693.9 L774.6,693.7 L775.2,693.4 L775.8,693.4 L776.4,693.2 L777.0,693.1 L777.6,693.0 L778.2,692.9 L778.8,692.7 L779.4,692.5 L780.0,692.5 L780.6,692.5 L781.2,692.1 L781.8,692.0 L782.4,692.0 L783.0,691.9 L783.6,691.7 L784.2,691.4 L784.8,691.4 L785.4,691.2 L786.0,691.0 L786.6,690.9 L787.2,690.8 L787.8,690.7 L788.4,690.5 L789.0,690.3 L789.6,690.3 L790.2,690.1 L790.8,690.0 L791.4,689.7 L792.0,689.5 L792.6,689.6 L793.2,689.3 L793.8,689.3 L794.4,689.2 L795.0,689.1 L795.6,689.1 L796.2,689.2 L796.8,688.8 L797.4,689.1 L798.0,689.2 L798.6,689.0 L799.2,689.0 L799.8,689.1 L800.4,689.2 L801.0,689.0 L801.6,689.1 L802.2,689.1 L802.8,689.2 L803.4,689.3 L804.0,689.4 L804.6,689.4 L805.2,689.5 L805.8,689.5 L806.4,689.6 L807.0,689.7 L807.6,689.8 L808.2,689.8 L808.8,690.1 L809.4,690.1 L810.0,690.1 L810.6,690.4 L811.2,690.3 L811.8,690.5 L812.4,690.6 L813.0,690.7 L813.6,690.8 L814.2,690.9 L814.8,691.0 L815.4,691.3 L816.0,691.1 L816.6,691.3 L817.2,691.5 L817.8,691.5 L818.4,691.6 L819.0,692.0 L819.6,691.9 L820.2,692.2 L820.8,692.2 L821.4,692.3 L822.0,692.5 L822.6,692.6 L823.2,692.8 L823.8,692.9 L824.4,693.0 L825.0,693.1 L825.6,693.3 L826.2,693.4 L826.8,693.4 L827.4,693.6 L828.0,693.8 L828.6,693.9 L829.2,694.1 L829.8,694.2 L830.4,694.4 L831.0,694.5 L831.6,694.7 L832.2,694.8 L832.8,695.1 L833.4,695.0 L834.0,695.4 L834.6,695.4 L835.2,695.5 L835.8,695.5 L836.4,695.4 L837.0,695.7 L837.6,695.9 L838.2,696.1 L838.8,695.9 L839.4,696.3 L840.0,696.2 L840.6,696.4 L841.2,696.2 L841.8,696.5 L842.4,696.5 L843.0,696.7 L843.6,696.7 L844.2,696.6 L844.8,696.8 L845.4,696.9 L846.0,696.9 L846.6,697.0 L847.2,697.0 L847.8,697.0 L848.4,696.9 L849.0,697.0 L849.6,697.2 L850.2,697.2 L850.8,697.1 L851.4,697.1 L852.0,697.2 L852.6,697.2 L853.2,697.2 L853.8,697.1 L854.4,697.4 L855.0,697.2 L855.6,697.2 L856.2,697.1 L856.8,697.1 L857.4,697.2 L858.0,697.2 L858.6,697.2 L859.2,697.2 L859.8,697.1 L860.4,697.1 L861.0,697.3 L861.6,697.2 L862.2,697.3 L862.8,697.1 L863.4,697.1 L864.0,697.2 L864.6,697.0 L865.2,696.9 L865.8,697.0 L866.4,697.0 L867.0,697.0 L867.6,697.0 L868.2,697.0 L868.8,697.0 L869.4,696.9 L870.0,696.9 L870.6,696.8 L871.2,696.9 L871.8,696.9 L872.4,696.7 L873.0,696.7 L873.6,696.6 L874.2,696.5 L874.8,696.5 L875.4,696.6 L876.0,696.6 L876.6,696.6 L877.2,696.4 L877.8,696.5 L878.4,696.5 L879.0,696.4 L879.6,696.2 L880.2,696.2 L880.8,696.2 L881.4,696.1 L882.0,696.1 L882.6,696.1 L883.2,696.0 L883.8,696.1 L884.4,695.9 L885.0,695.8 L885.6,695.8 L886.2,695.7 L886.8,695.7 L887.4,695.6 L888.0,695.7 L888.6,695.6 L889.2,695.5 L889.6,695.4" stroke="#ffc000" stroke-width="1.6"/>
<path d="M362.8,689.6 L363.4,689.8 L364.0,689.8 L364.6,690.0 L365.2,690.0 L365.8,690.1 L366.4,690.1 L367.0,690.2 L367.6,690.2 L368.2,690.2 L368.8,690.3 L369.4,690.3 L370.0,690.3 L370.6,690.4 L371.2,690.5 L371.8,690.4 L372.4,690.4 L373.0,690.3 L373.6,690.3 L374.2,690.5 L374.8,690.4 L375.4,690.4 L376.0,690.5 L376.6,690.5 L377.2,690.3 L377.8,690.4 L378.4,690.3 L379.0,690.3 L379.6,690.3 L380.2,690.2 L380.8,690.2 L381.4,690.1 L382.0,690.0 L382.6,690.0 L383.2,689.9 L383.8,689.8 L384.4,689.7 L385.0,689.7 L385.6,689.5 L386.2,689.4 L386.8,689.2 L387.4,689.2 L388.0,689.0 L388.6,689.0 L389.2,688.9 L389.8,688.6 L390.4,688.6 L391.0,688.5 L391.6,688.4 L392.2,688.1 L392.8,688.2 L393.4,687.9 L394.0,687.7 L394.6,687.5 L395.2,687.4 L395.8,687.3 L396.4,687.1 L397.0,686.8 L397.6,686.5 L398.2,686.4 L398.8,686.1 L399.4,685.9 L400.0,685.5 L400.6,685.4 L401.2,685.2 L401.8,684.8 L402.4,684.6 L403.0,684.2 L403.6,683.8 L404.2,683.5 L404.8,683.3 L405.4,683.0 L406.0,682.5 L406.6,682.2 L407.2,681.7 L407.8,681.5 L408.4,681.0 L409.0,680.5 L409.6,680.2 L410.2,679.6 L410.8,679.2 L411.4,678.7 L412.0,678.4 L412.6,677.9 L413.2,677.4 L413.8,676.9 L414.4,676.6 L415.0,676.0 L415.6,675.5 L416.2,675.2 L416.8,674.8 L417.4,674.1 L418.0,673.4 L418.6,673.1 L419.2,672.7 L419.8,672.1 L420.4,671.8 L421.0,670.9 L421.6,670.7 L422.2,670.0 L422.8,669.7 L423.4,668.9 L424.0,668.5 L424.6,667.7 L425.2,666.9 L425.8,666.4 L426.4,665.9 L427.0,665.2 L427.6,665.0 L428.2,664.6 L428.8,663.9 L429.4,663.3 L430.0,663.0 L430.6,662.5 L431.2,662.4 L431.8,661.9 L432.4,661.5 L433.0,661.0 L433.6,660.5 L434.2,660.3 L434.8,660.0 L435.4,659.9 L436.0,659.6 L436.6,659.2 L437.2,659.0 L437.8,659.1 L438.4,658.4 L439.0,658.2 L439.6,658.1 L440.2,657.9 L440.8,657.7 L441.4,657.7 L442.0,657.8 L442.6,657.0 L443.2,657.2 L443.8,657.1 L444.4,657.0 L445.0,656.9 L445.6,656.7 L446.2,656.9 L446.8,656.6 L447.4,656.6 L448.0,656.6 L448.6,656.6 L449.2,656.5 L449.8,656.7 L450.4,656.6 L451.0,656.6 L451.6,656.6 L452.2,656.5 L452.8,656.6 L453.4,656.6 L454.0,656.9 L454.6,656.8 L455.2,656.8 L455.8,657.1 L456.4,657.3 L457.0,657.0 L457.6,657.8 L458.2,657.6 L458.8,657.7 L459.4,658.1 L460.0,658.1 L460.6,658.2 L461.2,659.0 L461.8,658.6 L462.4,659.1 L463.0,659.5 L463.6,659.4 L464.2,659.9 L464.8,660.3 L465.4,660.9 L466.0,660.6 L466.6,661.1 L467.2,661.5 L467.8,661.7 L468.4,661.8 L469.0,662.4 L469.6,662.7 L470.2,663.1 L470.8,663.5 L471.4,663.8 L472.0,664.1 L472.6,664.4 L473.2,664.5 L473.8,665.1 L474.4,665.5 L475.0,665.8 L475.6,666.2 L476.2,666.5 L476.8,667.2 L477.4,667.6 L478.0,667.6 L478.6,668.1 L479.2,668.4 L479.8,669.0 L480.4,669.2 L481.0,669.5 L481.6,669.8 L482.2,670.2 L482.8,670.3 L483.4,670.8 L484.0,670.9 L484.6,671.3 L485.2,671.5 L485.8,671.9 L486.4,672.0 L487.0,672.3 L487.6,672.3 L488.2,672.7 L488.8,672.8 L489.4,673.0 L490.0,673.1 L490.6,673.4 L491.2,673.1 L491.8,673.5 L492.4,673.3 L493.0,673.6 L493.6,673.3 L494.2,673.4 L494.8,673.3 L495.4,673.7 L496.0,673.3 L496.6,673.4 L497.2,673.2 L497.8,673.0 L498.4,673.0 L499.0,673.0 L499.6,672.7 L500.2,672.7 L500.8,672.3 L501.4,672.1 L502.0,671.8 L502.6,671.7 L503.2,671.6 L503.8,671.1 L504.4,670.8 L505.0,670.3 L505.6,669.9 L506.2,669.7 L506.8,668.9 L507.4,668.4 L508.0,667.9 L508.6,667.3 L509.2,666.9 L509.8,665.6 L510.4,665.2 L511.0,664.4 L511.6,663.3 L512.2,662.5 L512.8,661.8 L513.4,661.0 L514.0,659.7 L514.6,658.6 L515.2,658.1 L515.8,657.2 L516.4,655.8 L517.0,654.4 L517.6,654.1 L518.2,652.7 L518.8,651.8 L519.4,650.5 L520.0,649.3 L520.6,648.2 L521.2,647.5 L521.8,646.3 L522.4,644.4 L523.0,643.5 L523.6,643.0 L524.2,641.4 L524.8,640.0 L525.4,639.2 L526.0,638.1 L526.6,637.0 L527.2,635.8 L527.8,634.7 L528.4,633.6 L529.0,632.8 L529.6,631.4 L530.2,630.5 L530.8,629.5 L531.4,628.9 L532.0,627.6 L532.6,626.4 L533.2,625.6 L533.8,624.5 L534.4,623.7 L535.0,622.5 L535.6,622.0 L536.2,620.9 L536.8,619.5 L537.4,618.5 L538.0,618.1 L538.6,617.1 L539.2,616.1 L539.8,614.9 L540.4,614.0 L541.0,614.0 L541.6,613.5 L542.2,612.8 L542.8,611.4 L543.4,611.6 L544.0,610.5 L544.6,610.3 L545.2,609.9 L545.8,609.0 L546.4,608.6 L547.0,607.7 L547.6,607.8 L548.2,607.2 L548.8,607.8 L549.4,607.4 L550.0,607.5 L550.6,607.0 L551.2,606.5 L551.8,606.7 L552.4,606.3 L553.0,606.5 L553.6,606.3 L554.2,605.8 L554.8,606.1 L555.4,606.1 L556.0,606.0 L556.6,606.5 L557.2,606.9 L557.8,606.2 L558.4,606.3 L559.0,605.7 L559.6,606.8 L560.2,606.9 L560.8,606.5 L561.4,607.7 L562.0,608.2 L562.6,608.1 L563.2,608.6 L563.8,608.8 L564.4,609.9 L565.0,609.5 L565.6,610.4 L566.2,611.7 L566.8,611.6 L567.4,612.2 L568.0,612.6 L568.6,612.9 L569.2,614.0 L569.8,614.9 L570.4,615.2 L571.0,616.6 L571.6,617.9 L572.2,618.9 L572.8,619.2 L573.4,620.6 L574.0,621.5 L574.6,623.6 L575.2,624.7 L575.8,625.9 L576.4,626.7 L577.0,627.8 L577.6,629.4 L578.2,630.7 L578.8,631.6 L579.4,633.1 L580.0,634.4 L580.6,635.4 L581.2,636.2 L581.8,637.1 L582.4,638.7 L583.0,639.9 L583.6,641.0 L584.2,642.1 L584.8,643.1 L585.4,644.6 L586.0,645.5 L586.6,646.6 L587.2,647.5 L587.8,648.7 L588.4,649.9 L589.0,650.7 L589.6,651.6 L590.2,652.7 L590.8,653.9 L591.4,654.6 L592.0,655.6 L592.6,656.1 L593.2,656.8 L593.8,657.4 L594.4,658.2 L595.0,659.2 L595.6,659.7 L596.2,660.3 L596.8,660.8 L597.4,661.1 L598.0,661.4 L598.6,661.7 L599.2,662.0 L599.8,662.1 L600.4,662.2 L601.0,662.3 L601.6,662.2 L602.2,662.3 L602.8,662.1 L603.4,662.3 L604.0,661.7 L604.6,661.8 L605.2,661.9 L605.8,661.1 L606.4,660.6 L607.0,660.3 L607.6,659.9 L608.2,659.0 L608.8,658.4 L609.4,657.4 L610.0,656.3 L610.6,655.8 L611.2,654.0 L611.8,652.4 L612.4,650.8 L613.0,649.4 L613.6,647.6 L614.2,646.0 L614.8,644.0 L615.4,641.8 L616.0,640.4 L616.6,638.4 L617.2,636.6 L617.8,634.4 L618.4,632.8 L619.0,630.8 L619.6,629.1 L620.2,626.6 L620.8,624.8 L621.4,622.5 L622.0,619.6 L622.6,617.1 L623.2,614.2 L623.8,612.0 L624.4,607.9 L625.0,605.8 L625.6,602.3 L626.2,599.9 L626.8,597.6 L627.4,594.2 L628.0,591.9 L628.6,588.7 L629.2,587.4 L629.8,584.2 L630.4,581.7 L631.0,577.8 L631.6,575.2 L632.2,573.7 L632.8,570.4 L633.4,567.7 L634.0,565.1 L634.6,561.0 L635.2,558.6 L635.8,554.1 L636.4,549.9 L637.0,544.6 L637.6,540.5 L638.2,534.9 L638.8,531.3 L639.4,526.6 L640.0,521.6 L640.6,516.4 L641.2,511.6 L641.8,504.0 L642.4,502.1 L643.0,496.5 L643.6,492.4 L644.2,487.8 L644.8,482.7 L645.4,479.2 L646.0,476.1 L646.6,472.7 L647.2,466.6 L647.8,462.2 L648.4,460.3 L649.0,453.8 L649.6,452.6 L650.2,446.4 L650.8,441.2 L651.4,438.9 L652.0,435.0 L652.6,426.7 L653.2,425.0 L653.8,417.7 L654.4,414.8 L655.0,407.4 L655.6,400.7 L656.2,398.0 L656.8,393.2 L657.4,389.6 L658.0,384.1 L658.6,377.8 L659.2,371.9 L659.8,367.0 L660.4,363.0 L661.0,358.1 L661.6,354.9 L662.2,347.7 L662.8,347.9 L663.4,343.9 L664.0,344.2 L664.6,338.1 L665.2,332.9 L665.8,331.2 L666.4,325.3 L667.0,323.1 L667.6,318.2 L668.2,320.5 L668.8,316.5 L669.4,311.2 L670.0,310.5 L670.6,309.9 L671.2,307.1 L671.8,304.8 L672.4,300.7 L673.0,299.0 L673.6,298.3 L674.2,297.7 L674.8,292.9 L675.4,290.6 L676.0,292.7 L676.6,287.5 L677.2,289.3 L677.8,286.3 L678.4,285.9 L679.0,285.9 L679.6,282.6 L680.2,281.3 L680.8,276.9 L681.4,276.0 L682.0,277.1 L682.6,277.5 L683.2,276.2 L683.8,277.4 L684.4,275.5 L685.0,277.6 L685.6,280.5 L686.2,278.4 L686.8,276.0 L687.4,271.7 L688.0,273.7 L688.6,271.0 L689.2,275.7 L689.8,271.8 L690.4,273.8 L691.0,267.5 L691.6,269.8 L692.2,266.4 L692.8,269.4 L693.4,273.4 L694.0,271.1 L694.6,274.0 L695.2,274.4 L695.8,272.6 L696.4,278.5 L697.0,280.1 L697.6,278.8 L698.2,283.0 L698.8,281.8 L699.4,282.6 L700.0,285.7 L700.6,286.0 L701.2,292.6 L701.8,287.8 L702.4,293.6 L703.0,296.1 L703.6,293.4 L704.2,296.4 L704.8,302.9 L705.4,304.3 L706.0,309.0 L706.6,313.7 L707.2,314.8 L707.8,317.3 L708.4,318.2 L709.0,326.3 L709.6,328.2 L710.2,333.6 L710.8,337.1 L711.4,338.3 L712.0,346.4 L712.6,349.1 L713.2,352.3 L713.8,353.0 L714.4,357.8 L715.0,361.2 L715.6,365.0 L716.2,367.7 L716.8,373.4 L717.4,376.7 L718.0,380.5 L718.6,383.0 L719.2,388.9 L719.8,391.0 L720.4,390.9 L721.0,397.1 L721.6,401.3 L722.2,406.0 L722.8,407.9 L723.4,411.5 L724.0,414.5 L724.6,419.6 L725.2,421.9 L725.8,425.4 L726.4,428.9 L727.0,433.9 L727.6,436.4 L728.2,438.8 L728.8,444.9 L729.4,447.1 L730.0,451.7 L730.6,455.3 L731.2,459.8 L731.8,463.5 L732.4,466.2 L733.0,471.0 L733.6,474.6 L734.2,482.0 L734.8,485.7 L735.4,491.3 L736.0,494.6 L736.6,497.7 L737.2,505.1 L737.8,508.2 L738.4,512.4 L739.0,516.5 L739.6,521.0 L740.2,525.1 L740.8,527.6 L741.4,533.6 L742.0,536.5 L742.6,540.5 L743.2,545.8 L743.8,549.1 L744.4,552.1 L745.0,555.0 L745.6,559.8 L746.2,563.6 L746.8,566.8 L747.4,569.6 L748.0,573.2 L748.6,576.3 L749.2,580.3 L749.8,583.9 L750.4,587.1 L751.0,589.4 L751.6,592.9 L752.2,596.0 L752.8,598.4 L753.4,601.2 L754.0,604.8 L754.6,606.6 L755.2,609.3 L755.8,611.2 L756.4,613.7 L757.0,615.3 L757.6,618.1 L758.2,620.7 L758.8,623.1 L759.4,624.8 L760.0,626.7 L760.6,628.6 L761.2,630.4 L761.8,632.4 L762.4,634.6 L763.0,636.1 L763.6,638.3 L764.2,639.6 L764.8,641.2 L765.4,643.1 L766.0,644.7 L766.6,646.4 L767.2,648.5 L767.8,649.8 L768.4,651.4 L769.0,653.1 L769.6,654.6 L770.2,655.6 L770.8,657.3 L771.4,658.5 L772.0,659.8 L772.6,661.1 L773.2,662.1 L773.8,663.4 L774.4,664.7 L775.0,665.9 L775.6,666.9 L776.2,668.0 L776.8,669.2 L777.4,670.3 L778.0,671.2 L778.6,672.2 L779.2,672.9 L779.8,673.9 L780.4,674.8 L781.0,675.6 L781.6,676.5 L782.2,677.5 L782.8,678.1 L783.4,678.8 L784.0,679.6 L784.6,680.5 L785.2,681.0 L785.8,681.7 L786.4,682.2 L787.0,682.8 L787.6,683.4 L788.2,684.0 L788.8,684.8 L789.4,685.1 L790.0,685.8 L790.6,686.2 L791.2,686.7 L791.8,687.2 L792.4,687.6 L793.0,688.0 L793.6,688.2 L794.2,688.7 L794.8,689.0 L795.4,689.6 L796.0,689.7 L796.6,690.0 L797.2,690.2 L797.8,690.5 L798.4,690.8 L799.0,691.2 L799.6,691.4 L800.2,691.7 L800.8,691.8 L801.4,692.1 L802.0,692.5 L802.6,692.6 L803.2,692.7 L803.8,693.1 L804.4,693.3 L805.0,693.6 L805.6,693.9 L806.2,694.0 L806.8,694.3 L807.4,694.4 L808.0,694.8 L808.6,695.0 L809.2,695.0 L809.8,695.2 L810.4,695.4 L811.0,695.6 L811.6,695.9 L812.2,695.8 L812.8,696.2 L813.4,696.2 L814.0,696.3 L814.6,696.4 L815.2,696.8 L815.8,696.8 L816.4,697.0 L817.0,697.0 L817.6,697.3 L818.2,697.2 L818.8,697.4 L819.4,697.7 L820.0,697.6 L820.6,697.8 L821.2,697.9 L821.8,697.9 L822.4,698.0 L823.0,698.2 L823.6,698.2 L824.2,698.3 L824.8,698.4 L825.4,698.5 L826.0,698.6 L826.6,698.8 L827.2,698.8 L827.8,698.8 L828.4,698.7 L829.0,699.0 L829.6,699.1 L830.2,699.0 L830.8,699.0 L831.4,699.2 L832.0,699.4 L832.6,699.3 L833.2,699.4 L833.8,699.5 L834.4,699.6 L835.0,699.5 L835.6,699.6 L836.2,699.6 L836.8,699.7 L837.4,699.7 L838.0,699.7 L838.6,699.6 L839.2,699.6 L839.8,699.7 L840.4,699.6 L841.0,699.7 L841.6,699.7 L842.2,699.7 L842.8,699.7 L843.4,699.6 L844.0,699.5 L844.6,699.5 L845.2,699.6 L845.8,699.3 L846.4,699.3 L847.0,699.4 L847.6,699.3 L848.2,699.2 L848.8,699.1 L849.4,699.1 L850.0,699.1 L850.6,699.1 L851.2,698.9 L851.8,698.9 L852.4,698.7 L853.0,698.7 L853.6,698.5 L854.2,698.5 L854.8,698.4 L855.4,698.3 L856.0,698.1 L856.6,698.2 L857.2,697.9 L857.8,697.8 L858.4,697.7 L859.0,697.5 L859.6,697.5 L860.2,697.4 L860.8,697.2 L861.4,697.1 L862.0,697.0 L862.6,696.9 L863.2,696.6 L863.8,696.6 L864.4,696.4 L865.0,696.3 L865.6,696.2 L866.2,696.1 L866.8,695.9 L867.4,695.7 L868.0,695.7 L868.6,695.6 L869.2,695.5 L869.8,695.4 L870.4,695.3 L871.0,695.1 L871.6,695.0 L872.2,694.8 L872.8,694.7 L873.4,694.6 L874.0,694.5 L874.6,694.4 L875.2,694.2 L875.8,694.1 L876.4,694.0 L877.0,693.8 L877.6,693.7 L878.2,693.6 L878.8,693.4 L879.4,693.2 L880.0,693.2 L880.6,693.1 L881.2,692.9 L881.8,692.8 L882.4,692.8 L883.0,692.5 L883.6,692.4 L884.2,692.3 L884.8,692.1 L885.4,692.0 L886.0,692.0 L886.6,691.8 L887.2,691.7 L887.8,691.5 L888.4,691.4 L889.0,691.3 L889.6,691.1 L890.2,691.0 L890.8,690.9 L891.4,690.8 L892.0,690.6 L892.6,690.6 L893.2,690.3 L893.8,690.4 L894.4,690.4 L895.0,690.3 L895.6,690.1 L896.2,690.0 L896.8,690.0 L897.4,689.8 L898.0,689.9 L898.6,689.8 L899.2,689.8 L899.8,689.8 L900.4,689.5 L901.0,689.7 L901.6,689.6 L902.2,689.5 L902.8,689.5 L903.4,689.5 L904.0,689.6 L904.6,689.4 L905.2,689.6 L905.8,689.6 L906.4,689.5 L907.0,689.5 L907.6,689.5 L908.2,689.4 L908.8,689.5 L909.4,689.5 L910.0,689.5 L910.6,689.7 L911.2,689.6 L911.8,689.6 L912.4,689.7 L913.0,689.5 L913.6,689.6 L914.2,689.7 L914.8,689.8 L915.4,689.9 L916.0,689.9 L916.6,690.2 L917.2,690.2 L917.8,690.3 L918.4,690.3 L919.0,690.5 L919.6,690.6 L920.2,690.6 L920.8,690.8 L921.4,691.0 L922.0,691.0 L922.6,691.2 L923.2,691.3 L923.8,691.3 L924.4,691.5 L925.0,691.5 L925.6,691.7 L926.2,691.8 L926.8,692.0 L927.4,692.1 L928.0,692.2 L928.6,692.3 L929.2,692.3 L929.8,692.6 L930.4,692.6 L931.0,692.8 L931.6,692.9 L932.2,693.0 L932.8,693.2 L933.4,693.2 L934.0,693.4 L934.6,693.3 L935.2,693.6 L935.8,693.6 L936.4,693.7 L937.0,693.9 L937.6,694.0 L938.2,694.2 L938.8,694.1 L939.4,694.3 L940.0,694.4 L940.6,694.6 L941.2,694.6 L941.8,694.8 L942.4,694.8 L943.0,695.0 L943.6,695.2 L944.2,695.2 L944.8,695.3 L945.4,695.3 L946.0,695.5 L946.6,695.7 L947.2,695.7 L947.8,695.9 L948.4,695.8 L949.0,695.9 L949.6,696.1 L950.2,696.2 L950.8,696.4 L951.4,696.5 L952.0,696.6 L952.6,696.7 L953.2,696.7 L953.8,696.8 L954.4,696.8 L955.0,697.2 L955.6,696.9 L956.2,697.2 L956.8,697.4 L957.4,697.4 L958.0,697.4 L958.6,697.5 L959.2,697.6 L959.8,697.7 L960.4,697.6 L961.0,697.8 L961.2,697.8" stroke="#00aa20" stroke-width="1.7"/>
<path d="M489.5,689.3 L490.1,689.3 L490.7,689.3 L491.3,689.3 L491.9,689.3 L492.5,689.3 L493.1,689.2 L493.7,689.2 L494.3,689.2 L494.9,689.1 L495.5,689.1 L496.1,689.0 L496.7,689.0 L497.3,688.9 L497.9,688.9 L498.5,688.8 L499.1,688.7 L499.7,688.7 L500.3,688.6 L500.9,688.5 L501.5,688.5 L502.1,688.4 L502.7,688.3 L503.3,688.3 L503.9,688.2 L504.5,688.1 L505.1,688.0 L505.7,687.9 L506.3,687.7 L506.9,687.6 L507.5,687.5 L508.1,687.4 L508.7,687.2 L509.3,687.1 L509.9,686.9 L510.5,686.8 L511.1,686.6 L511.7,686.4 L512.3,686.2 L512.9,686.1 L513.5,685.9 L514.1,685.6 L514.7,685.4 L515.3,685.2 L515.9,685.0 L516.5,684.7 L517.1,684.5 L517.7,684.2 L518.3,684.0 L518.9,683.7 L519.5,683.4 L520.1,683.1 L520.7,682.7 L521.3,682.4 L521.9,682.0 L522.5,681.6 L523.1,681.2 L523.7,680.8 L524.3,680.4 L524.9,679.9 L525.5,679.4 L526.1,679.0 L526.7,678.4 L527.3,677.9 L527.9,677.3 L528.5,676.8 L529.1,676.2 L529.7,675.7 L530.3,675.1 L530.9,674.7 L531.5,674.1 L532.1,673.5 L532.7,673.0 L533.3,672.5 L533.9,671.9 L534.5,671.4 L535.1,670.8 L535.7,670.3 L536.3,669.8 L536.9,669.2 L537.5,668.7 L538.1,668.2 L538.7,667.7 L539.3,667.1 L539.9,666.5 L540.5,666.0 L541.1,665.4 L541.7,664.9 L542.3,664.3 L542.9,663.9 L543.5,663.3 L544.1,662.8 L544.7,662.2 L545.3,661.7 L545.9,661.2 L546.5,660.6 L547.1,660.1 L547.7,659.6 L548.3,659.1 L548.9,658.6 L549.5,658.1 L550.1,657.7 L550.7,657.2 L551.3,656.8 L551.9,656.4 L552.5,656.1 L553.1,655.6 L553.7,655.3 L554.3,654.9 L554.9,654.5 L555.5,654.2 L556.1,653.8 L556.7,653.5 L557.3,653.2 L557.9,652.9 L558.5,652.6 L559.1,652.4 L559.7,652.2 L560.3,652.1 L560.9,651.9 L561.5,651.7 L562.1,651.6 L562.7,651.5 L563.3,651.4 L563.9,651.3 L564.5,651.1 L565.1,651.1 L565.7,651.0 L566.3,650.9 L566.9,650.9 L567.5,650.9 L568.1,650.9 L568.7,650.9 L569.3,650.9 L569.9,651.0 L570.5,651.0 L571.1,651.1 L571.7,651.1 L572.3,651.2 L572.9,651.4 L573.5,651.4 L574.1,651.5 L574.7,651.7 L575.3,651.9 L575.9,652.0 L576.5,652.1 L577.1,652.3 L577.7,652.6 L578.3,652.9 L578.9,653.2 L579.5,653.5 L580.1,653.9 L580.7,654.3 L581.3,654.8 L581.9,655.3 L582.5,655.6 L583.1,656.0 L583.7,656.4 L584.3,656.8 L584.9,657.3 L585.5,657.7 L586.1,658.1 L586.7,658.5 L587.3,659.0 L587.9,659.3 L588.5,659.7 L589.1,660.2 L589.7,660.6 L590.3,661.1 L590.9,661.4 L591.5,661.9 L592.1,662.3 L592.7,662.7 L593.3,663.1 L593.9,663.5 L594.5,664.0 L595.1,664.4 L595.7,664.8 L596.3,665.3 L596.9,665.7 L597.5,666.1 L598.1,666.5 L598.7,666.9 L599.3,667.3 L599.9,667.7 L600.5,668.2 L601.1,668.6 L601.7,668.9 L602.3,669.4 L602.9,669.7 L603.5,670.0 L604.1,670.4 L604.7,670.7 L605.3,671.1 L605.9,671.4 L606.5,671.7 L607.1,672.1 L607.7,672.4 L608.3,672.7 L608.9,673.0 L609.5,673.2 L610.1,673.4 L610.7,673.5 L611.3,673.7 L611.9,673.7 L612.5,673.8 L613.1,673.9 L613.7,673.9 L614.3,673.9 L614.9,673.9 L615.5,673.9 L616.1,673.9 L616.7,673.9 L617.3,673.9 L617.9,673.8 L618.5,673.8 L619.1,673.7 L619.7,673.6 L620.3,673.5 L620.9,673.4 L621.5,673.2 L622.1,673.0 L622.7,672.9 L623.3,672.6 L623.9,672.3 L624.5,672.1 L625.1,671.8 L625.7,671.5 L626.3,671.2 L626.9,670.8 L627.5,670.4 L628.1,670.0 L628.7,669.5 L629.3,669.1 L629.9,668.6 L630.5,668.0 L631.1,667.4 L631.7,666.8 L632.3,666.1 L632.9,665.5 L633.5,664.7 L634.1,663.9 L634.7,663.2 L635.3,662.4 L635.9,661.7 L636.5,660.9 L637.1,660.1 L637.7,659.2 L638.3,658.4 L638.9,657.6 L639.5,656.7 L640.1,655.9 L640.7,655.0 L641.3,654.2 L641.9,653.3 L642.5,652.3 L643.1,651.3 L643.7,650.6 L644.3,649.6 L644.9,648.7 L645.5,647.9 L646.1,646.8 L646.7,646.0 L647.3,645.0 L647.9,644.2 L648.5,643.3 L649.1,642.5 L649.7,641.5 L650.3,640.5 L650.9,639.7 L651.5,638.7 L652.1,637.8 L652.7,637.1 L653.3,636.0 L653.9,635.1 L654.5,634.3 L655.1,633.3 L655.7,632.4 L656.3,631.7 L656.9,630.6 L657.5,629.8 L658.1,628.9 L658.7,628.0 L659.3,627.1 L659.9,626.3 L660.5,625.6 L661.1,624.7 L661.7,623.9 L662.3,622.9 L662.9,622.2 L663.5,621.3 L664.1,620.7 L664.7,619.8 L665.3,619.1 L665.9,618.3 L666.5,617.7 L667.1,617.0 L667.7,616.6 L668.3,616.0 L668.9,615.5 L669.5,615.2 L670.1,614.8 L670.7,614.5 L671.3,614.2 L671.9,613.9 L672.5,613.6 L673.1,613.2 L673.7,613.0 L674.3,612.6 L674.9,612.5 L675.5,612.2 L676.1,612.0 L676.7,611.9 L677.3,611.8 L677.9,611.8 L678.5,611.7 L679.1,611.4 L679.7,611.6 L680.3,611.8 L680.9,611.8 L681.5,611.9 L682.1,611.9 L682.7,612.0 L683.3,612.2 L683.9,612.5 L684.5,612.8 L685.1,612.9 L685.7,613.3 L686.3,613.6 L686.9,613.8 L687.5,614.3 L688.1,614.9 L688.7,615.4 L689.3,615.7 L689.9,616.3 L690.5,616.6 L691.1,617.0 L691.7,617.4 L692.3,618.2 L692.9,618.7 L693.5,619.4 L694.1,619.9 L694.7,620.6 L695.3,621.2 L695.9,622.2 L696.5,622.9 L697.1,623.8 L697.7,624.5 L698.3,625.6 L698.9,626.5 L699.5,627.3 L700.1,628.3 L700.7,629.2 L701.3,630.1 L701.9,631.0 L702.5,632.0 L703.1,632.7 L703.7,633.6 L704.3,634.5 L704.9,635.3 L705.5,636.3 L706.1,637.3 L706.7,638.2 L707.3,639.0 L707.9,640.0 L708.5,640.8 L709.1,641.8 L709.7,642.7 L710.3,643.6 L710.9,644.5 L711.5,645.4 L712.1,646.4 L712.7,647.2 L713.3,648.1 L713.9,648.8 L714.5,649.5 L715.1,650.4 L715.7,651.0 L716.3,651.7 L716.9,652.3 L717.5,652.9 L718.1,653.6 L718.7,654.2 L719.3,654.7 L719.9,655.2 L720.5,655.9 L721.1,656.5 L721.7,657.0 L722.3,657.4 L722.9,657.9 L723.5,658.1 L724.1,658.5 L724.7,658.6 L725.3,658.9 L725.9,659.1 L726.5,659.3 L727.1,659.5 L727.7,659.6 L728.3,659.8 L728.9,659.7 L729.5,659.7 L730.1,659.6 L730.7,659.3 L731.3,659.0 L731.9,658.6 L732.5,658.1 L733.1,657.6 L733.7,656.8 L734.3,656.1 L734.9,655.2 L735.5,654.3 L736.1,653.2 L736.7,652.1 L737.3,650.8 L737.9,649.4 L738.5,647.8 L739.1,646.2 L739.7,644.4 L740.3,642.6 L740.9,640.6 L741.5,638.6 L742.1,636.6 L742.7,634.6 L743.3,632.3 L743.9,630.1 L744.5,627.6 L745.1,625.3 L745.7,622.6 L746.3,620.0 L746.9,617.5 L747.5,614.7 L748.1,612.0 L748.7,609.4 L749.3,606.6 L749.9,603.8 L750.5,601.1 L751.1,598.2 L751.7,595.5 L752.3,592.7 L752.9,589.8 L753.5,587.1 L754.1,583.9 L754.7,581.1 L755.3,578.4 L755.9,575.2 L756.5,572.0 L757.1,569.1 L757.7,565.6 L758.3,561.8 L758.9,558.1 L759.5,553.2 L760.1,548.4 L760.7,543.8 L761.3,539.3 L761.9,535.2 L762.5,531.5 L763.1,527.6 L763.7,524.0 L764.3,520.3 L764.9,516.6 L765.5,512.5 L766.1,508.4 L766.7,504.4 L767.3,500.6 L767.9,496.9 L768.5,492.7 L769.1,488.4 L769.7,484.6 L770.3,480.0 L770.9,476.3 L771.5,471.8 L772.1,467.8 L772.7,463.6 L773.3,459.0 L773.9,454.3 L774.5,449.1 L775.1,444.5 L775.7,440.2 L776.3,436.8 L776.9,432.0 L777.5,428.0 L778.1,423.9 L778.7,420.4 L779.3,415.6 L779.9,411.4 L780.5,407.3 L781.1,402.4 L781.7,398.7 L782.3,394.0 L782.9,389.0 L783.5,384.6 L784.1,379.9 L784.7,375.6 L785.3,371.8 L785.9,367.6 L786.5,363.4 L787.1,359.2 L787.7,354.8 L788.3,351.1 L788.9,346.4 L789.5,342.9 L790.1,339.4 L790.7,335.4 L791.3,330.9 L791.9,327.2 L792.5,324.1 L793.1,320.7 L793.7,316.1 L794.3,313.1 L794.9,310.0 L795.5,307.2 L796.1,303.3 L796.7,300.7 L797.3,297.4 L797.9,295.5 L798.5,291.9 L799.1,289.1 L799.7,286.4 L800.3,284.5 L800.9,282.1 L801.5,279.2 L802.1,277.6 L802.7,275.0 L803.3,273.3 L803.9,271.3 L804.5,269.6 L805.1,268.3 L805.7,266.8 L806.3,266.1 L806.9,265.1 L807.5,263.6 L808.1,262.4 L808.7,262.4 L809.3,260.6 L809.9,260.2 L810.5,260.9 L811.1,260.6 L811.7,260.7 L812.3,260.2 L812.9,260.0 L813.5,260.5 L814.1,261.3 L814.7,261.3 L815.3,261.9 L815.9,262.3 L816.5,263.2 L817.1,264.9 L817.7,265.8 L818.3,266.2 L818.9,267.4 L819.5,268.8 L820.1,270.5 L820.7,271.1 L821.3,272.9 L821.9,273.6 L822.5,275.4 L823.1,277.5 L823.7,279.2 L824.3,280.0 L824.9,281.9 L825.5,284.2 L826.1,285.6 L826.7,287.5 L827.3,289.9 L827.9,291.9 L828.5,294.5 L829.1,296.8 L829.7,298.8 L830.3,301.6 L830.9,304.3 L831.5,306.7 L832.1,309.7 L832.7,313.4 L833.3,315.5 L833.9,319.5 L834.5,322.4 L835.1,325.4 L835.7,328.8 L836.3,332.0 L836.9,335.5 L837.5,338.2 L838.1,341.6 L838.7,344.9 L839.3,349.0 L839.9,352.2 L840.5,355.1 L841.1,358.9 L841.7,362.5 L842.3,366.6 L842.9,370.6 L843.5,375.3 L844.1,378.2 L844.7,383.3 L845.3,387.5 L845.9,391.6 L846.5,396.2 L847.1,400.7 L847.7,405.9 L848.3,411.2 L848.9,415.6 L849.5,421.1 L850.1,424.8 L850.7,428.9 L851.3,432.0 L851.9,435.6 L852.5,439.3 L853.1,443.9 L853.7,450.0 L854.3,456.9 L854.9,463.4 L855.5,467.7 L856.1,471.8 L856.7,474.8 L857.3,479.0 L857.9,483.1 L858.5,486.5 L859.1,490.6 L859.7,494.8 L860.3,498.5 L860.9,502.0 L861.5,506.2 L862.1,510.1 L862.7,513.9 L863.3,517.7 L863.9,521.6 L864.5,525.3 L865.1,529.2 L865.7,533.3 L866.3,537.1 L866.9,541.1 L867.5,544.6 L868.1,548.1 L868.7,551.6 L869.3,554.6 L869.9,557.3 L870.5,559.8 L871.1,562.3 L871.7,565.3 L872.3,567.7 L872.9,570.5 L873.5,573.1 L874.1,575.6 L874.7,578.5 L875.3,580.7 L875.9,583.5 L876.5,586.2 L877.1,588.7 L877.7,591.4 L878.3,593.8 L878.9,596.3 L879.5,599.0 L880.1,601.2 L880.7,603.6 L881.3,605.9 L881.9,608.3 L882.5,610.7 L883.1,613.0 L883.7,615.3 L884.3,617.6 L884.9,620.0 L885.5,622.1 L886.1,624.4 L886.7,626.6 L887.3,628.7 L887.9,630.8 L888.5,632.7 L889.1,634.6 L889.7,636.5 L890.3,638.1 L890.9,639.8 L891.5,641.3 L892.1,642.9 L892.7,644.4 L893.3,645.9 L893.9,647.4 L894.5,648.8 L895.1,650.3 L895.7,651.8 L896.3,653.1 L896.9,654.6 L897.5,656.1 L898.1,657.6 L898.7,658.9 L899.3,660.3 L899.9,661.7 L900.5,662.9 L901.1,664.2 L901.7,665.4 L902.3,666.5 L902.9,667.6 L903.5,668.7 L904.1,669.7 L904.7,670.7 L905.3,671.7 L905.9,672.7 L906.5,673.7 L907.1,674.6 L907.7,675.5 L908.3,676.4 L908.9,677.3 L909.5,678.1 L910.1,678.9 L910.7,679.6 L911.3,680.4 L911.9,681.0 L912.5,681.6 L913.1,682.2 L913.7,682.7 L914.3,683.2 L914.9,683.7 L915.5,684.2 L916.1,684.7 L916.7,685.1 L917.3,685.5 L917.9,685.9 L918.5,686.3 L919.1,686.7 L919.7,687.0 L920.3,687.3 L920.9,687.7 L921.5,688.0 L922.1,688.3 L922.7,688.7 L923.3,689.0 L923.9,689.3 L924.5,689.6 L925.1,690.0 L925.7,690.2 L926.3,690.5 L926.9,690.8 L927.5,691.0 L928.1,691.2 L928.7,691.5 L929.3,691.7 L929.9,691.9 L930.5,692.1 L931.1,692.2 L931.7,692.4 L932.3,692.5 L932.9,692.7 L933.5,692.9 L934.1,693.0 L934.7,693.2 L935.3,693.3 L935.9,693.5 L936.5,693.6 L937.1,693.7 L937.7,693.9 L938.3,694.1 L938.9,694.2 L939.5,694.3 L940.1,694.4 L940.7,694.6 L941.3,694.7 L941.9,694.8 L942.5,694.9 L943.1,695.1 L943.7,695.2 L944.3,695.3 L944.9,695.4 L945.5,695.5 L946.1,695.6 L946.7,695.7 L947.3,695.8 L947.9,696.0 L948.5,696.0 L949.1,696.2 L949.7,696.2 L950.3,696.4 L950.9,696.5 L951.5,696.6 L952.1,696.7 L952.7,696.8 L953.3,697.0 L953.9,697.0 L954.5,697.1 L955.1,697.2 L955.7,697.4 L956.3,697.4 L956.9,697.5 L957.5,697.6 L958.1,697.7 L958.7,697.9 L959.3,697.9 L959.9,698.0 L960.5,698.1 L961.1,698.1 L961.2,698.2" stroke="#99cc18" stroke-width="1.6"/>
<path d="M65.00,116.5 L65.25,116.5 L65.50,116.5 L65.75,116.5 L66.00,116.5 L66.25,116.5 L66.50,116.5 L66.75,116.5 L67.00,116.5 L67.25,116.5 L67.50,116.5 L67.75,116.5 L68.00,116.5 L68.25,116.5 L68.50,116.5 L68.75,116.5 L69.00,116.5 L69.25,116.6 L69.50,116.6 L69.75,116.6 L70.00,116.6 L70.25,116.6 L70.50,116.6 L70.75,116.6 L71.00,116.7 L71.25,116.7 L71.50,116.7 L71.75,116.8 L72.00,116.8 L72.25,116.9 L72.50,117.0 L72.75,117.1 L73.00,117.2 L73.25,117.4 L73.50,117.7 L73.75,118.0 L74.00,118.5 L74.25,118.9 L74.50,119.1 L74.75,118.9 L75.00,118.5 L75.25,118.1 L75.50,117.8 L75.75,117.5 L76.00,117.3 L76.25,117.2 L76.50,117.1 L76.75,117.1 L77.00,117.1 L77.25,117.0 L77.50,117.0 L77.75,117.0 L78.00,117.1 L78.25,117.1 L78.50,117.1 L78.75,117.2 L79.00,117.3 L79.25,117.3 L79.50,117.4 L79.75,117.6 L80.00,117.7 L80.25,117.9 L80.50,118.1 L80.75,118.4 L81.00,118.8 L81.25,119.4 L81.50,120.1 L81.75,121.2 L82.00,122.7 L82.25,125.0 L82.50,128.7 L82.75,134.6 L83.00,143.3 L83.25,152.3 L83.50,153.5 L83.75,145.3 L84.00,136.1 L84.25,129.6 L84.50,125.6 L84.75,123.1 L85.00,121.4 L85.25,120.3 L85.50,119.5 L85.75,118.9 L86.00,118.5 L86.25,118.2 L86.50,117.9 L86.75,117.7 L87.00,117.5 L87.25,117.4 L87.50,117.3 L87.75,117.2 L88.00,117.1 L88.25,117.0 L88.50,117.0 L88.75,116.9 L89.00,116.9 L89.25,116.9 L89.50,116.8 L89.75,116.8 L90.00,116.8 L90.25,116.7 L90.50,116.7 L90.75,116.7 L91.00,116.7 L91.25,116.7 L91.50,116.7 L91.75,116.6 L92.00,116.6 L92.25,116.6 L92.50,116.6 L92.75,116.6 L93.00,116.6 L93.25,116.6 L93.50,116.6 L93.75,116.6 L94.00,116.6 L94.25,116.6 L94.50,116.6 L94.75,116.6 L95.00,116.6 L95.25,116.5 L95.50,116.5 L95.75,116.5 L96.00,116.5 L96.25,116.5 L96.50,116.5 L96.75,116.5 L97.00,116.5 L97.25,116.5 L97.50,116.5 L97.75,116.5 L98.00,116.5 L98.25,116.5 L98.50,116.5 L98.75,116.5 L99.00,116.5 L99.25,116.5 L99.50,116.5 L99.75,116.5 L100.00,116.5 L100.25,116.5 L100.50,116.5 L100.75,116.5 L101.00,116.5 L101.25,116.5 L101.50,116.5 L101.75,116.5 L102.00,116.5 L102.25,116.5 L102.50,116.5 L102.75,116.5 L103.00,116.5 L103.25,116.5 L103.50,116.5 L103.75,116.5 L104.00,116.5 L104.25,116.5 L104.50,116.6 L104.75,116.6 L105.00,116.6 L105.25,116.6 L105.50,116.6 L105.75,116.6 L106.00,116.6 L106.25,116.6 L106.50,116.7 L106.75,116.7 L107.00,116.7 L107.25,116.7 L107.50,116.8 L107.75,116.8 L108.00,116.9 L108.25,117.0 L108.50,117.2 L108.75,117.4 L109.00,117.6 L109.25,118.0 L109.50,118.4 L109.75,118.8 L110.00,119.0 L110.25,118.8 L110.50,118.4 L110.75,118.0 L111.00,117.7 L111.25,117.4 L111.50,117.2 L111.75,117.1 L112.00,117.0 L112.25,116.9 L112.50,116.9 L112.75,116.8 L113.00,116.8 L113.25,116.8 L113.50,116.7 L113.75,116.7 L114.00,116.7 L114.25,116.7 L114.50,116.7 L114.75,116.7 L115.00,116.7 L115.25,116.7 L115.50,116.8 L115.75,116.8 L116.00,116.8 L116.25,116.8 L116.50,116.8 L116.75,116.8 L117.00,116.9 L117.25,116.9 L117.50,116.9 L117.75,117.0 L118.00,117.0 L118.25,117.1 L118.50,117.1 L118.75,117.2 L119.00,117.3 L119.25,117.4 L119.50,117.5 L119.75,117.7 L120.00,117.8 L120.25,118.1 L120.50,118.3 L120.75,118.7 L121.00,119.2 L121.25,119.8 L121.50,120.8 L121.75,122.0 L122.00,124.0 L122.25,126.9 L122.50,131.7 L122.75,139.2 L123.00,149.3 L123.25,156.8 L123.50,153.2 L123.75,143.0 L124.00,134.3 L124.25,128.6 L124.50,125.0 L124.75,122.7 L125.00,121.2 L125.25,120.2 L125.50,119.4 L125.75,118.9 L126.00,118.5 L126.25,118.2 L126.50,117.9 L126.75,117.7 L127.00,117.5 L127.25,117.4 L127.50,117.3 L127.75,117.2 L128.00,117.1 L128.25,117.1 L128.50,117.0 L128.75,117.0 L129.00,116.9 L129.25,116.9 L129.50,116.8 L129.75,116.8 L130.00,116.8 L130.25,116.8 L130.50,116.7 L130.75,116.7 L131.00,116.7 L131.25,116.7 L131.50,116.7 L131.75,116.7 L132.00,116.7 L132.25,116.6 L132.50,116.6 L132.75,116.6 L133.00,116.6 L133.25,116.6 L133.50,116.6 L133.75,116.6 L134.00,116.6 L134.25,116.6 L134.50,116.6 L134.75,116.6 L135.00,116.6 L135.25,116.6 L135.50,116.6 L135.75,116.6 L136.00,116.6 L136.25,116.6 L136.50,116.6 L136.75,116.5 L137.00,116.5 L137.25,116.5 L137.50,116.5 L137.75,116.5 L138.00,116.5 L138.25,116.5 L138.50,116.5 L138.75,116.5 L139.00,116.5 L139.25,116.5 L139.50,116.6 L139.75,116.6 L140.00,116.6 L140.25,116.6 L140.50,116.6 L140.75,116.6 L141.00,116.6 L141.25,116.6 L141.50,116.6 L141.75,116.6 L142.00,116.6 L142.25,116.6 L142.50,116.7 L142.75,116.7 L143.00,116.7 L143.25,116.7 L143.50,116.8 L143.75,116.8 L144.00,116.9 L144.25,117.0 L144.50,117.2 L144.75,117.4 L145.00,117.6 L145.25,118.0 L145.50,118.4 L145.75,118.8 L146.00,119.0 L146.25,118.8 L146.50,118.4 L146.75,118.0 L147.00,117.6 L147.25,117.4 L147.50,117.2 L147.75,117.0 L148.00,116.9 L148.25,116.9 L148.50,116.8 L148.75,116.8 L149.00,116.7 L149.25,116.7 L149.50,116.7 L149.75,116.7 L150.00,116.7 L150.25,116.6 L150.50,116.6 L150.75,116.6 L151.00,116.6 L151.25,116.6 L151.50,116.6 L151.75,116.6 L152.00,116.6 L152.25,116.6 L152.50,116.6 L152.75,116.6 L153.00,116.6 L153.25,116.6 L153.50,116.6 L153.75,116.6 L154.00,116.6 L154.25,116.7 L154.50,116.7 L154.75,116.7 L155.00,116.7 L155.25,116.7 L155.50,116.7 L155.75,116.7 L156.00,116.7 L156.25,116.8 L156.50,116.8 L156.75,116.8 L157.00,116.8 L157.25,116.9 L157.50,116.9 L157.75,117.0 L158.00,117.0 L158.25,117.1 L158.50,117.1 L158.75,117.2 L159.00,117.3 L159.25,117.4 L159.50,117.5 L159.75,117.6 L160.00,117.8 L160.25,118.0 L160.50,118.3 L160.75,118.6 L161.00,119.1 L161.25,119.7 L161.50,120.5 L161.75,121.7 L162.00,123.4 L162.25,125.9 L162.50,130.0 L162.75,136.5 L163.00,146.2 L163.25,156.3 L163.50,157.6 L163.75,148.4 L164.00,138.2 L164.25,131.1 L164.50,126.6 L164.75,123.8 L165.00,122.0 L165.25,120.7 L165.50,119.8 L165.75,119.2 L166.00,118.7 L166.25,118.4 L166.50,118.1 L166.75,117.8 L167.00,117.7 L167.25,117.5 L167.50,117.4 L167.75,117.3 L168.00,117.2 L168.25,117.1 L168.50,117.1 L168.75,117.0 L169.00,117.0 L169.25,116.9 L169.50,116.9 L169.75,116.8 L170.00,116.8 L170.25,116.8 L170.50,116.8 L170.75,116.8 L171.00,116.7 L171.25,116.7 L171.50,116.7 L171.75,116.7 L172.00,116.7 L172.25,116.7 L172.50,116.7 L172.75,116.7 L173.00,116.6 L173.25,116.6 L173.50,116.6 L173.75,116.6 L174.00,116.6 L174.25,116.6 L174.50,116.6 L174.75,116.6 L175.00,116.6 L175.25,116.6 L175.50,116.6 L175.75,116.6 L176.00,116.6 L176.25,116.6 L176.50,116.6 L176.75,116.6 L177.00,116.7 L177.25,116.7 L177.50,116.7 L177.75,116.7 L178.00,116.7 L178.25,116.8 L178.50,116.8 L178.75,116.9 L179.00,116.9 L179.25,117.0 L179.50,117.2 L179.75,117.4 L180.00,117.6 L180.25,118.0 L180.50,118.4 L180.75,118.8 L181.00,119.0 L181.25,118.8 L181.50,118.4 L181.75,118.0 L182.00,117.6 L182.25,117.4 L182.50,117.2 L182.75,117.0 L183.00,116.9 L183.25,116.8 L183.50,116.8 L183.75,116.7 L184.00,116.7 L184.25,116.7 L184.50,116.7 L184.75,116.6 L185.00,116.6 L185.25,116.6 L185.50,116.6 L185.75,116.6 L186.00,116.6 L186.25,116.6 L186.50,116.6 L186.75,116.6 L187.00,116.6 L187.25,116.6 L187.50,116.6 L187.75,116.6 L188.00,116.6 L188.25,116.6 L188.50,116.6 L188.75,116.6 L189.00,116.6 L189.25,116.6 L189.50,116.6 L189.75,116.6 L190.00,116.6 L190.25,116.6 L190.50,116.6 L190.75,116.6 L191.00,116.6 L191.25,116.6 L191.50,116.6 L191.75,116.6 L192.00,116.6 L192.25,116.6 L192.50,116.6 L192.75,116.6 L193.00,116.6 L193.25,116.6 L193.50,116.6 L193.75,116.6 L194.00,116.6 L194.25,116.7 L194.50,116.7 L194.75,116.7 L195.00,116.7 L195.25,116.7 L195.50,116.7 L195.75,116.8 L196.00,116.8 L196.25,116.8 L196.50,116.8 L196.75,116.9 L197.00,116.9 L197.25,116.9 L197.50,117.0 L197.75,117.0 L198.00,117.1 L198.25,117.2 L198.50,117.2 L198.75,117.3 L199.00,117.4 L199.25,117.6 L199.50,117.7 L199.75,117.9 L200.00,118.2 L200.25,118.5 L200.50,118.9 L200.75,119.4 L201.00,120.2 L201.25,121.2 L201.50,122.7 L201.75,124.8 L202.00,128.3 L202.25,133.7 L202.50,142.2 L202.75,153.1 L203.00,159.0 L203.25,153.1 L203.50,142.2 L203.75,133.7 L204.00,128.3 L204.25,124.8 L204.50,122.7 L204.75,121.2 L205.00,120.2 L205.25,119.4 L205.50,118.9 L205.75,118.5 L206.00,118.2 L206.25,117.9 L206.50,117.7 L206.75,117.6 L207.00,117.4 L207.25,117.3 L207.50,117.2 L207.75,117.2 L208.00,117.1 L208.25,117.0 L208.50,117.0 L208.75,116.9 L209.00,116.9 L209.25,116.9 L209.50,116.8 L209.75,116.8 L210.00,116.8 L210.25,116.7 L210.50,116.7 L210.75,116.7 L211.00,116.7 L211.25,116.7 L211.50,116.7 L211.75,116.7 L212.00,116.6 L212.25,116.6 L212.50,116.6 L212.75,116.6 L213.00,116.6 L213.25,116.6 L213.50,116.6 L213.75,116.6 L214.00,116.6 L214.25,116.6 L214.50,116.6 L214.75,116.6 L215.00,116.6 L215.25,116.6 L215.50,116.5 L215.75,116.5 L216.00,116.5 L216.25,116.5 L216.50,116.5 L216.75,116.5 L217.00,116.5 L217.25,116.5 L217.50,116.5 L217.75,116.5 L218.00,116.5 L218.25,116.5 L218.50,116.5 L218.75,116.5 L219.00,116.5 L219.25,116.5 L219.50,116.5 L219.75,116.5 L220.00,116.5 L220.25,116.5 L220.50,116.5 L220.75,116.5 L221.00,116.5 L221.25,116.5 L221.50,116.5 L221.75,116.5 L222.00,116.5 L222.25,116.5 L222.50,116.5 L222.75,116.5 L223.00,116.5 L223.25,116.5 L223.50,116.5 L223.75,116.5 L224.00,116.5 L224.25,116.5 L224.50,116.5 L224.75,116.5 L225.00,116.5 L225.25,116.5 L225.50,116.5 L225.75,116.5 L226.00,116.5 L226.25,116.5 L226.50,116.5 L226.75,116.5 L227.00,116.5 L227.25,116.5 L227.50,116.5 L227.75,116.5 L228.00,116.5 L228.25,116.5 L228.50,116.5 L228.75,116.5 L229.00,116.5 L229.25,116.5 L229.50,116.5 L229.75,116.6 L230.00,116.6 L230.25,116.6 L230.50,116.6 L230.75,116.6 L231.00,116.6 L231.25,116.6 L231.50,116.6 L231.75,116.6 L232.00,116.6 L232.25,116.6 L232.50,116.6 L232.75,116.6 L233.00,116.6 L233.25,116.7 L233.50,116.7 L233.75,116.7 L234.00,116.7 L234.25,116.7 L234.50,116.7 L234.75,116.7 L235.00,116.8 L235.25,116.8 L235.50,116.8 L235.75,116.9 L236.00,116.9 L236.25,116.9 L236.50,117.0 L236.75,117.0 L237.00,117.1 L237.25,117.1 L237.50,117.2 L237.75,117.3 L238.00,117.4 L238.25,117.5 L238.50,117.7 L238.75,117.9 L239.00,118.1 L239.25,118.4 L239.50,118.8 L239.75,119.3 L240.00,120.0 L240.25,120.9 L240.50,122.2 L240.75,124.1 L241.00,127.1 L241.25,131.7 L241.50,139.2 L241.75,149.9 L242.00,159.4 L242.25,158.1 L242.50,147.6 L242.75,137.4 L243.00,130.6 L243.25,126.4 L243.50,123.7 L243.75,121.9 L244.00,120.7 L244.25,119.8 L244.50,119.2 L244.75,118.7 L245.00,118.4 L245.25,118.1 L245.50,117.9 L245.75,117.7 L246.00,117.5 L246.25,117.4 L246.50,117.3 L246.75,117.2 L247.00,117.1 L247.25,117.1 L247.50,117.0 L247.75,117.0 L248.00,116.9 L248.25,116.9 L248.50,116.8 L248.75,116.8 L249.00,116.8 L249.25,116.8 L249.50,116.7 L249.75,116.7 L250.00,116.7 L250.25,116.7 L250.50,116.7 L250.75,116.7 L251.00,116.7 L251.25,116.6 L251.50,116.6 L251.75,116.6 L252.00,116.6 L252.25,116.6 L252.50,116.6 L252.75,116.6 L253.00,116.6 L253.25,116.6 L253.50,116.6 L253.75,116.6 L254.00,116.6 L254.25,116.6 L254.50,116.6 L254.75,116.5 L255.00,116.5 L255.25,116.5 L255.50,116.5 L255.75,116.5 L256.00,116.5 L256.25,116.5 L256.50,116.5 L256.75,116.5 L257.00,116.5 L257.25,116.5 L257.50,116.5 L257.75,116.5 L258.00,116.5 L258.25,116.5 L258.50,116.5 L258.75,116.5 L259.00,116.5 L259.25,116.5 L259.50,116.5 L259.75,116.5 L260.00,116.5 L260.25,116.5 L260.50,116.5 L260.75,116.5 L261.00,116.5 L261.25,116.5 L261.50,116.5 L261.75,116.5 L262.00,116.5 L262.25,116.5 L262.50,116.5 L262.75,116.5 L263.00,116.5 L263.25,116.5 L263.50,116.5 L263.75,116.5 L264.00,116.5 L264.25,116.5 L264.50,116.5 L264.75,116.5 L265.00,116.5 L265.25,116.5 L265.50,116.5 L265.75,116.5 L266.00,116.5 L266.25,116.5 L266.50,116.5 L266.75,116.5 L267.00,116.5 L267.25,116.5 L267.50,116.5 L267.75,116.5 L268.00,116.5 L268.25,116.5 L268.50,116.6 L268.75,116.6 L269.00,116.6 L269.25,116.6 L269.50,116.6 L269.75,116.6 L270.00,116.6 L270.25,116.6 L270.50,116.6 L270.75,116.6 L271.00,116.6 L271.25,116.6 L271.50,116.6 L271.75,116.6 L272.00,116.6 L272.25,116.7 L272.50,116.7 L272.75,116.7 L273.00,116.7 L273.25,116.7 L273.50,116.7 L273.75,116.8 L274.00,116.8 L274.25,116.8 L274.50,116.8 L274.75,116.9 L275.00,116.9 L275.25,116.9 L275.50,117.0 L275.75,117.0 L276.00,117.1 L276.25,117.2 L276.50,117.3 L276.75,117.4 L277.00,117.5 L277.25,117.6 L277.50,117.8 L277.75,118.0 L278.00,118.3 L278.25,118.6 L278.50,119.0 L278.75,119.6 L279.00,120.3 L279.25,121.4 L279.50,122.9 L279.75,125.2 L280.00,128.8 L280.25,134.5 L280.50,143.3 L280.75,154.6 L281.00,160.8 L281.25,154.6 L281.50,143.3 L281.75,134.5 L282.00,128.8 L282.25,125.2 L282.50,122.9 L282.75,121.4 L283.00,120.3 L283.25,119.6 L283.50,119.0 L283.75,118.6 L284.00,118.3 L284.25,118.0 L284.50,117.8 L284.75,117.6 L285.00,117.5 L285.25,117.4 L285.50,117.3 L285.75,117.2 L286.00,117.1 L286.25,117.0 L286.50,117.0 L286.75,116.9 L287.00,116.9 L287.25,116.9 L287.50,116.8 L287.75,116.8 L288.00,116.8 L288.25,116.8 L288.50,116.7 L288.75,116.7 L289.00,116.7 L289.25,116.7 L289.50,116.7 L289.75,116.7 L290.00,116.6 L290.25,116.6 L290.50,116.6 L290.75,116.6 L291.00,116.6 L291.25,116.6 L291.50,116.6 L291.75,116.6 L292.00,116.6 L292.25,116.6 L292.50,116.6 L292.75,116.6 L293.00,116.6 L293.25,116.6 L293.50,116.6 L293.75,116.5 L294.00,116.5 L294.25,116.5 L294.50,116.5 L294.75,116.5 L295.00,116.5 L295.25,116.5 L295.50,116.5 L295.75,116.5 L296.00,116.5 L296.25,116.5 L296.50,116.5 L296.75,116.5 L297.00,116.5 L297.25,116.5 L297.50,116.5 L297.75,116.5 L298.00,116.5 L298.25,116.5 L298.50,116.5 L298.75,116.5 L299.00,116.5 L299.25,116.5 L299.50,116.5 L299.75,116.5 L300.00,116.5 L300.25,116.5 L300.50,116.5 L300.75,116.5 L301.00,116.5 L301.25,116.5 L301.50,116.5 L301.75,116.5 L302.00,116.5 L302.25,116.5 L302.50,116.5 L302.75,116.5 L303.00,116.5 L303.25,116.5 L303.50,116.5 L303.75,116.5 L304.00,116.5 L304.25,116.5 L304.50,116.5 L304.75,116.5 L305.00,116.5 L305.25,116.5 L305.50,116.5 L305.75,116.5 L306.00,116.5 L306.25,116.5 L306.50,116.5 L306.75,116.5 L307.00,116.5 L307.25,116.5 L307.50,116.6 L307.75,116.6 L308.00,116.6 L308.25,116.6 L308.50,116.6 L308.75,116.6 L309.00,116.6 L309.25,116.6 L309.50,116.6 L309.75,116.6 L310.00,116.6 L310.25,116.6 L310.50,116.6 L310.75,116.6 L311.00,116.7 L311.25,116.7 L311.50,116.7 L311.75,116.7 L312.00,116.7 L312.25,116.7 L312.50,116.7 L312.75,116.8 L313.00,116.8 L313.25,116.8 L313.50,116.9 L313.75,116.9 L314.00,116.9 L314.25,117.0 L314.50,117.0 L314.75,117.1 L315.00,117.1 L315.25,117.2 L315.50,117.3 L315.75,117.4 L316.00,117.6 L316.25,117.7 L316.50,117.9 L316.75,118.1 L317.00,118.4 L317.25,118.8 L317.50,119.4 L317.75,120.0 L318.00,121.0 L318.25,122.4 L318.50,124.4 L318.75,127.6 L319.00,132.6 L319.25,140.6 L319.50,151.4 L319.75,159.3 L320.00,155.5 L320.25,144.7 L320.50,135.4 L320.75,129.3 L321.00,125.5 L321.25,123.1 L321.50,121.5 L321.75,120.4 L322.00,119.6 L322.25,119.0 L322.50,118.6 L322.75,118.3 L323.00,118.0 L323.25,117.8 L323.50,117.6 L323.75,117.5 L324.00,117.4 L324.25,117.3 L324.50,117.2 L324.75,117.1 L325.00,117.0 L325.25,117.0 L325.50,116.9 L325.75,116.9 L326.00,116.9 L326.25,116.8 L326.50,116.8 L326.75,116.8 L327.00,116.8 L327.25,116.7 L327.50,116.7 L327.75,116.7 L328.00,116.7 L328.25,116.7 L328.50,116.7 L328.75,116.6 L329.00,116.6 L329.25,116.6 L329.50,116.6 L329.75,116.6 L330.00,116.6 L330.25,116.6 L330.50,116.6 L330.75,116.6 L331.00,116.6 L331.25,116.6 L331.50,116.6 L331.75,116.6 L332.00,116.6 L332.25,116.6 L332.50,116.5 L332.75,116.5 L333.00,116.5 L333.25,116.5 L333.50,116.5 L333.75,116.5 L334.00,116.5 L334.25,116.5 L334.50,116.5 L334.75,116.5 L335.00,116.5 L335.25,116.5 L335.50,116.5 L335.75,116.5 L336.00,116.5 L336.25,116.5 L336.50,116.5 L336.75,116.5 L337.00,116.5 L337.25,116.5 L337.50,116.5 L337.75,116.5 L338.00,116.5 L338.25,116.5 L338.50,116.5 L338.75,116.5 L339.00,116.5 L339.25,116.5 L339.50,116.5 L339.75,116.5 L340.00,116.5 L340.25,116.5 L340.50,116.5 L340.75,116.5 L341.00,116.5 L341.25,116.5 L341.50,116.5 L341.75,116.5 L342.00,116.5 L342.25,116.5 L342.50,116.5 L342.75,116.5 L343.00,116.5 L343.25,116.5 L343.50,116.5 L343.75,116.5 L344.00,116.5 L344.25,116.5 L344.50,116.5 L344.75,116.5 L345.00,116.5 L345.25,116.5 L345.50,116.6 L345.75,116.6 L346.00,116.6 L346.25,116.6 L346.50,116.6 L346.75,116.6 L347.00,116.6 L347.25,116.6 L347.50,116.6 L347.75,116.6 L348.00,116.6 L348.25,116.6 L348.50,116.6 L348.75,116.6 L349.00,116.6 L349.25,116.7 L349.50,116.7 L349.75,116.7 L350.00,116.7 L350.25,116.7 L350.50,116.7 L350.75,116.8 L351.00,116.8 L351.25,116.8 L351.50,116.8 L351.75,116.9 L352.00,116.9 L352.25,116.9 L352.50,117.0 L352.75,117.0 L353.00,117.1 L353.25,117.2 L353.50,117.2 L353.75,117.3 L354.00,117.5 L354.25,117.6 L354.50,117.8 L354.75,118.0 L355.00,118.2 L355.25,118.5 L355.50,118.9 L355.75,119.5 L356.00,120.2 L356.25,121.3 L356.50,122.8 L356.75,125.0 L357.00,128.5 L357.25,134.1 L357.50,142.7 L357.75,153.8 L358.00,159.8 L358.25,153.8 L358.50,142.7 L358.75,134.1 L359.00,128.5 L359.25,125.0 L359.50,122.8 L359.75,121.3 L360.00,120.2 L360.25,119.5 L360.50,118.9 L360.75,118.5 L361.00,118.2 L361.25,118.0 L361.50,117.8 L361.75,117.6 L362.00,117.5 L362.25,117.3 L362.50,117.2 L362.75,117.2 L363.00,117.1 L363.25,117.0 L363.50,117.0 L363.75,116.9 L364.00,116.9 L364.25,116.9 L364.50,116.8 L364.75,116.8 L365.00,116.8 L365.25,116.8 L365.50,116.7 L365.75,116.7 L366.00,116.7 L366.25,116.7 L366.50,116.7 L366.75,116.7 L367.00,116.6 L367.25,116.6 L367.50,116.6 L367.75,116.6 L368.00,116.6 L368.25,116.6 L368.50,116.6 L368.75,116.6 L369.00,116.6 L369.25,116.6 L369.50,116.6 L369.75,116.6 L370.00,116.6 L370.25,116.6 L370.50,116.6 L370.75,116.5 L371.00,116.5 L371.25,116.5 L371.50,116.5 L371.75,116.5 L372.00,116.5 L372.25,116.5 L372.50,116.5 L372.75,116.5 L373.00,116.5 L373.25,116.5 L373.50,116.5 L373.75,116.5 L374.00,116.5 L374.25,116.5 L374.50,116.5 L374.75,116.5 L375.00,116.5 L375.25,116.5 L375.50,116.5 L375.75,116.5 L376.00,116.5 L376.25,116.5 L376.50,116.5 L376.75,116.5 L377.00,116.5 L377.25,116.5 L377.50,116.5 L377.75,116.5 L378.00,116.5 L378.25,116.5 L378.50,116.5 L378.75,116.5 L379.00,116.5 L379.25,116.5 L379.50,116.5 L379.75,116.5 L380.00,116.5 L380.25,116.5 L380.50,116.5 L380.75,116.5 L381.00,116.5 L381.25,116.5 L381.50,116.5 L381.75,116.5 L382.00,116.5 L382.25,116.5 L382.50,116.5 L382.75,116.5 L383.00,116.5 L383.25,116.5 L383.50,116.5 L383.75,116.5 L384.00,116.5 L384.25,116.6 L384.50,116.6 L384.75,116.6 L385.00,116.6 L385.25,116.6 L385.50,116.6 L385.75,116.6 L386.00,116.6 L386.25,116.6 L386.50,116.6 L386.75,116.6 L387.00,116.6 L387.25,116.6 L387.50,116.6 L387.75,116.6 L388.00,116.7 L388.25,116.7 L388.50,116.7 L388.75,116.7 L389.00,116.7 L389.25,116.7 L389.50,116.8 L389.75,116.8 L390.00,116.8 L390.25,116.8 L390.50,116.9 L390.75,116.9 L391.00,117.0 L391.25,117.0 L391.50,117.1 L391.75,117.1 L392.00,117.2 L392.25,117.3 L392.50,117.4 L392.75,117.5 L393.00,117.7 L393.25,117.9 L393.50,118.1 L393.75,118.4 L394.00,118.8 L394.25,119.4 L394.50,120.1 L394.75,121.1 L395.00,122.5 L395.25,124.6 L395.50,128.0 L395.75,133.3 L396.00,141.6 L396.25,152.1 L396.50,157.9 L396.75,152.1 L397.00,141.6 L397.25,133.3 L397.50,128.0 L397.75,124.6 L398.00,122.5 L398.25,121.1 L398.50,120.1 L398.75,119.4 L399.00,118.8 L399.25,118.4 L399.50,118.1 L399.75,117.9 L400.00,117.7 L400.25,117.5 L400.50,117.4 L400.75,117.3 L401.00,117.2 L401.25,117.1 L401.50,117.1 L401.75,117.0 L402.00,117.0 L402.25,116.9 L402.50,116.9 L402.75,116.8 L403.00,116.8 L403.25,116.8 L403.50,116.8 L403.75,116.7 L404.00,116.7 L404.25,116.7 L404.50,116.7 L404.75,116.7 L405.00,116.7 L405.25,116.7 L405.50,116.6 L405.75,116.6 L406.00,116.6 L406.25,116.6 L406.50,116.6 L406.75,116.6 L407.00,116.6 L407.25,116.6 L407.50,116.6 L407.75,116.6 L408.00,116.6 L408.25,116.6 L408.50,116.6 L408.75,116.6 L409.00,116.6 L409.25,116.6 L409.50,116.6 L409.75,116.6 L410.00,116.6 L410.25,116.6 L410.50,116.6 L410.75,116.5 L411.00,116.5 L411.25,116.5 L411.50,116.5 L411.75,116.5 L412.00,116.5 L412.25,116.5 L412.50,116.5 L412.75,116.5 L413.00,116.5 L413.25,116.6 L413.50,116.6 L413.75,116.6 L414.00,116.6 L414.25,116.6 L414.50,116.6 L414.75,116.6 L415.00,116.6 L415.25,116.6 L415.50,116.6 L415.75,116.6 L416.00,116.6 L416.25,116.6 L416.50,116.6 L416.75,116.6 L417.00,116.7 L417.25,116.7 L417.50,116.7 L417.75,116.7 L418.00,116.8 L418.25,116.8 L418.50,116.9 L418.75,117.0 L419.00,117.1 L419.25,117.3 L419.50,117.5 L419.75,117.9 L420.00,118.3 L420.25,118.7 L420.50,119.0 L420.75,119.0 L421.00,118.6 L421.25,118.2 L421.50,117.8 L421.75,117.5 L422.00,117.3 L422.25,117.1 L422.50,117.0 L422.75,116.9 L423.00,116.9 L423.25,116.8 L423.50,116.8 L423.75,116.8 L424.00,116.8 L424.25,116.8 L424.50,116.7 L424.75,116.7 L425.00,116.7 L425.25,116.7 L425.50,116.7 L425.75,116.7 L426.00,116.8 L426.25,116.8 L426.50,116.8 L426.75,116.8 L427.00,116.8 L427.25,116.8 L427.50,116.9 L427.75,116.9 L428.00,116.9 L428.25,117.0 L428.50,117.0 L428.75,117.0 L429.00,117.1 L429.25,117.2 L429.50,117.2 L429.75,117.3 L430.00,117.4 L430.25,117.6 L430.50,117.7 L430.75,117.9 L431.00,118.2 L431.25,118.5 L431.50,118.9 L431.75,119.4 L432.00,120.1 L432.25,121.1 L432.50,122.5 L432.75,124.6 L433.00,128.0 L433.25,133.3 L433.50,141.6 L433.75,152.1 L434.00,158.0 L434.25,152.1 L434.50,141.6 L434.75,133.3 L435.00,128.0 L435.25,124.6 L435.50,122.5 L435.75,121.1 L436.00,120.1 L436.25,119.4 L436.50,118.9 L436.75,118.5 L437.00,118.2 L437.25,117.9 L437.50,117.7 L437.75,117.6 L438.00,117.4 L438.25,117.3 L438.50,117.2 L438.75,117.1 L439.00,117.1 L439.25,117.0 L439.50,117.0 L439.75,116.9 L440.00,116.9 L440.25,116.9 L440.50,116.8 L440.75,116.8 L441.00,116.8 L441.25,116.8 L441.50,116.7 L441.75,116.7 L442.00,116.7 L442.25,116.7 L442.50,116.7 L442.75,116.7 L443.00,116.7 L443.25,116.6 L443.50,116.6 L443.75,116.6 L444.00,116.6 L444.25,116.6 L444.50,116.6 L444.75,116.6 L445.00,116.6 L445.25,116.6 L445.50,116.6 L445.75,116.6 L446.00,116.6 L446.25,116.6 L446.50,116.6 L446.75,116.6 L447.00,116.6 L447.25,116.6 L447.50,116.6 L447.75,116.6 L448.00,116.6 L448.25,116.6 L448.50,116.6 L448.75,116.6 L449.00,116.6 L449.25,116.6 L449.50,116.6 L449.75,116.6 L450.00,116.6 L450.25,116.7 L450.50,116.7 L450.75,116.7 L451.00,116.7 L451.25,116.8 L451.50,116.8 L451.75,116.9 L452.00,117.0 L452.25,117.1 L452.50,117.2 L452.75,117.5 L453.00,117.8 L453.25,118.2 L453.50,118.6 L453.75,118.9 L454.00,119.0 L454.25,118.7 L454.50,118.2 L454.75,117.8 L455.00,117.5 L455.25,117.3 L455.50,117.1 L455.75,117.0 L456.00,116.9 L456.25,116.8 L456.50,116.8 L456.75,116.7 L457.00,116.7 L457.25,116.7 L457.50,116.7 L457.75,116.7 L458.00,116.6 L458.25,116.6 L458.50,116.6 L458.75,116.6 L459.00,116.6 L459.25,116.6 L459.50,116.6 L459.75,116.6 L460.00,116.6 L460.25,116.6 L460.50,116.6 L460.75,116.6 L461.00,116.6 L461.25,116.6 L461.50,116.6 L461.75,116.6 L462.00,116.6 L462.25,116.6 L462.50,116.7 L462.75,116.7 L463.00,116.7 L463.25,116.7 L463.50,116.7 L463.75,116.7 L464.00,116.7 L464.25,116.7 L464.50,116.8 L464.75,116.8 L465.00,116.8 L465.25,116.8 L465.50,116.9 L465.75,116.9 L466.00,116.9 L466.25,117.0 L466.50,117.0 L466.75,117.1 L467.00,117.1 L467.25,117.2 L467.50,117.3 L467.75,117.4 L468.00,117.6 L468.25,117.7 L468.50,117.9 L468.75,118.2 L469.00,118.5 L469.25,118.9 L469.50,119.4 L469.75,120.2 L470.00,121.2 L470.25,122.7 L470.50,124.9 L470.75,128.5 L471.00,134.2 L471.25,142.8 L471.50,153.0 L471.75,156.5 L472.00,149.1 L472.25,139.0 L472.50,131.6 L472.75,126.9 L473.00,123.9 L473.25,122.0 L473.50,120.7 L473.75,119.8 L474.00,119.2 L474.25,118.7 L474.50,118.3 L474.75,118.1 L475.00,117.8 L475.25,117.6 L475.50,117.5 L475.75,117.4 L476.00,117.3 L476.25,117.2 L476.50,117.1 L476.75,117.1 L477.00,117.0 L477.25,117.0 L477.50,116.9 L477.75,116.9 L478.00,116.9 L478.25,116.8 L478.50,116.8 L478.75,116.8 L479.00,116.8 L479.25,116.7 L479.50,116.7 L479.75,116.7 L480.00,116.7 L480.25,116.7 L480.50,116.7 L480.75,116.7 L481.00,116.7 L481.25,116.7 L481.50,116.7 L481.75,116.7 L482.00,116.7 L482.25,116.7 L482.50,116.7 L482.75,116.7 L483.00,116.7 L483.25,116.7 L483.50,116.7 L483.75,116.8 L484.00,116.8 L484.25,116.8 L484.50,116.9 L484.75,117.0 L485.00,117.1 L485.25,117.2 L485.50,117.4 L485.75,117.7 L486.00,118.1 L486.25,118.5 L486.50,118.9 L486.75,119.0 L487.00,118.8 L487.25,118.3 L487.50,117.9 L487.75,117.6 L488.00,117.3 L488.25,117.1 L488.50,117.0 L488.75,116.9 L489.00,116.8 L489.25,116.8 L489.50,116.7 L489.75,116.7 L490.00,116.7 L490.25,116.7 L490.50,116.6 L490.75,116.6 L491.00,116.6 L491.25,116.6 L491.50,116.6 L491.75,116.6 L492.00,116.6 L492.25,116.6 L492.50,116.6 L492.75,116.6 L493.00,116.6 L493.25,116.6 L493.50,116.6 L493.75,116.6 L494.00,116.6 L494.25,116.6 L494.50,116.6 L494.75,116.6 L495.00,116.6 L495.25,116.6 L495.50,116.6 L495.75,116.6 L496.00,116.6 L496.25,116.6 L496.50,116.6 L496.75,116.6 L497.00,116.6 L497.25,116.6 L497.50,116.6 L497.75,116.6 L498.00,116.6 L498.25,116.6 L498.50,116.6 L498.75,116.6 L499.00,116.6 L499.25,116.6 L499.50,116.6 L499.75,116.6 L500.00,116.6 L500.25,116.6 L500.50,116.7 L500.75,116.7 L501.00,116.7 L501.25,116.7 L501.50,116.7 L501.75,116.7 L502.00,116.7 L502.25,116.8 L502.50,116.8 L502.75,116.8 L503.00,116.8 L503.25,116.9 L503.50,116.9 L503.75,116.9 L504.00,117.0 L504.25,117.1 L504.50,117.1 L504.75,117.2 L505.00,117.3 L505.25,117.4 L505.50,117.5 L505.75,117.7 L506.00,117.9 L506.25,118.1 L506.50,118.4 L506.75,118.8 L507.00,119.3 L507.25,120.0 L507.50,121.0 L507.75,122.5 L508.00,124.6 L508.25,128.1 L508.50,133.6 L508.75,141.9 L509.00,151.7 L509.25,155.1 L509.50,148.0 L509.75,138.2 L510.00,131.1 L510.25,126.5 L510.50,123.7 L510.75,121.8 L511.00,120.6 L511.25,119.7 L511.50,119.1 L511.75,118.6 L512.00,118.3 L512.25,118.0 L512.50,117.8 L512.75,117.6 L513.00,117.5 L513.25,117.4 L513.50,117.3 L513.75,117.2 L514.00,117.1 L514.25,117.1 L514.50,117.0 L514.75,117.0 L515.00,117.0 L515.25,116.9 L515.50,116.9 L515.75,116.9 L516.00,116.9 L516.25,116.9 L516.50,116.9 L516.75,116.9 L517.00,116.9 L517.25,116.9 L517.50,117.0 L517.75,117.0 L518.00,117.1 L518.25,117.2 L518.50,117.3 L518.75,117.6 L519.00,117.8 L519.25,118.2 L519.50,118.7 L519.75,119.0 L520.00,119.0 L520.25,118.7 L520.50,118.3 L520.75,117.9 L521.00,117.6 L521.25,117.3 L521.50,117.1 L521.75,117.0 L522.00,116.9 L522.25,116.9 L522.50,116.8 L522.75,116.8 L523.00,116.7 L523.25,116.7 L523.50,116.7 L523.75,116.6 L524.00,116.6 L524.25,116.6 L524.50,116.6 L524.75,116.6 L525.00,116.6 L525.25,116.6 L525.50,116.6 L525.75,116.6 L526.00,116.6 L526.25,116.6 L526.50,116.6 L526.75,116.5 L527.00,116.5 L527.25,116.5 L527.50,116.5 L527.75,116.5 L528.00,116.5 L528.25,116.5 L528.50,116.5 L528.75,116.5 L529.00,116.5 L529.25,116.5 L529.50,116.5 L529.75,116.5 L530.00,116.5 L530.25,116.5 L530.50,116.5 L530.75,116.5 L531.00,116.5 L531.25,116.5 L531.50,116.5 L531.75,116.5 L532.00,116.5 L532.25,116.5 L532.50,116.5 L532.75,116.5 L533.00,116.5 L533.25,116.5 L533.50,116.5 L533.75,116.5 L534.00,116.6 L534.25,116.6 L534.50,116.6 L534.75,116.6 L535.00,116.6 L535.25,116.6 L535.50,116.6 L535.75,116.6 L536.00,116.6 L536.25,116.6 L536.50,116.6 L536.75,116.6 L537.00,116.6 L537.25,116.6 L537.50,116.6 L537.75,116.6 L538.00,116.7 L538.25,116.7 L538.50,116.7 L538.75,116.7 L539.00,116.7 L539.25,116.7 L539.50,116.8 L539.75,116.8 L540.00,116.8 L540.25,116.8 L540.50,116.9 L540.75,116.9 L541.00,117.0 L541.25,117.0 L541.50,117.1 L541.75,117.1 L542.00,117.2 L542.25,117.3 L542.50,117.4 L542.75,117.6 L543.00,117.7 L543.25,118.0 L543.50,118.2 L543.75,118.6 L544.00,119.1 L544.25,119.7 L544.50,120.6 L544.75,122.0 L545.00,123.9 L545.25,127.1 L545.50,132.1 L545.75,139.7 L546.00,148.6 L546.25,151.7 L546.50,145.2 L546.75,136.3 L547.00,129.8 L547.25,125.7 L547.50,123.1 L547.75,121.5 L548.00,120.4 L548.25,119.6 L548.50,119.1 L548.75,118.7 L549.00,118.5 L549.25,118.3 L549.50,118.2 L549.75,118.3 L550.00,118.4 L550.25,118.6 L550.50,118.9 L550.75,119.3 L551.00,119.5 L551.25,119.4 L551.50,119.0 L551.75,118.5 L552.00,118.1 L552.25,117.8 L552.50,117.5 L552.75,117.3 L553.00,117.2 L553.25,117.1 L553.50,117.0 L553.75,116.9 L554.00,116.9 L554.25,116.8 L554.50,116.8 L554.75,116.8 L555.00,116.7 L555.25,116.7 L555.50,116.7 L555.75,116.7 L556.00,116.7 L556.25,116.6 L556.50,116.6 L556.75,116.6 L557.00,116.6 L557.25,116.6 L557.50,116.6 L557.75,116.6 L558.00,116.6 L558.25,116.6 L558.50,116.6 L558.75,116.6 L559.00,116.6 L559.25,116.6 L559.50,116.5 L559.75,116.5 L560.00,116.5 L560.25,116.5 L560.50,116.5 L560.75,116.5 L561.00,116.5 L561.25,116.5 L561.50,116.5 L561.75,116.5 L562.00,116.5 L562.25,116.5 L562.50,116.5 L562.75,116.5 L563.00,116.5 L563.25,116.5 L563.50,116.5 L563.75,116.5 L564.00,116.5 L564.25,116.5 L564.50,116.5 L564.75,116.5 L565.00,116.5 L565.25,116.5 L565.50,116.5 L565.75,116.5 L566.00,116.5 L566.25,116.5 L566.50,116.5 L566.75,116.5 L567.00,116.5 L567.25,116.5 L567.50,116.5 L567.75,116.5 L568.00,116.5 L568.25,116.5 L568.50,116.5 L568.75,116.5 L569.00,116.5 L569.25,116.5 L569.50,116.5 L569.75,116.5 L570.00,116.5 L570.25,116.5 L570.50,116.5 L570.75,116.5 L571.00,116.5 L571.25,116.5 L571.50,116.5 L571.75,116.6 L572.00,116.6 L572.25,116.6 L572.50,116.6 L572.75,116.6 L573.00,116.6 L573.25,116.6 L573.50,116.6 L573.75,116.6 L574.00,116.6 L574.25,116.6 L574.50,116.6 L574.75,116.6 L575.00,116.7 L575.25,116.7 L575.50,116.7 L575.75,116.7 L576.00,116.7 L576.25,116.7 L576.50,116.8 L576.75,116.8 L577.00,116.8 L577.25,116.9 L577.50,116.9 L577.75,117.0 L578.00,117.0 L578.25,117.1 L578.50,117.2 L578.75,117.2 L579.00,117.4 L579.25,117.5 L579.50,117.6 L579.75,117.9 L580.00,118.1 L580.25,118.5 L580.50,118.9 L580.75,119.5 L581.00,120.4 L581.25,121.6 L581.50,123.5 L581.75,126.4 L582.00,131.2 L582.25,138.4 L582.50,146.8 L582.75,149.7 L583.00,143.6 L583.25,135.2 L583.50,129.0 L583.75,125.1 L584.00,122.6 L584.25,121.1 L584.50,120.0 L584.75,119.2 L585.00,118.7 L585.25,118.3 L585.50,118.0 L585.75,117.8 L586.00,117.6 L586.25,117.4 L586.50,117.3 L586.75,117.2 L587.00,117.1 L587.25,117.0 L587.50,117.0 L587.75,116.9 L588.00,116.9 L588.25,116.8 L588.50,116.8 L588.75,116.8 L589.00,116.8 L589.25,116.7 L589.50,116.7 L589.75,116.7 L590.00,116.7 L590.25,116.7 L590.50,116.6 L590.75,116.6 L591.00,116.6 L591.25,116.6 L591.50,116.6 L591.75,116.6 L592.00,116.6 L592.25,116.6 L592.50,116.6 L592.75,116.6 L593.00,116.6 L593.25,116.6 L593.50,116.6 L593.75,116.5 L594.00,116.5 L594.25,116.5 L594.50,116.5 L594.75,116.5 L595.00,116.5 L595.25,116.5 L595.50,116.5 L595.75,116.5 L596.00,116.5 L596.25,116.5 L596.50,116.5 L596.75,116.5 L597.00,116.5 L597.25,116.5 L597.50,116.5 L597.75,116.5 L598.00,116.5 L598.25,116.5 L598.50,116.5 L598.75,116.5 L599.00,116.5 L599.25,116.5 L599.50,116.5 L599.75,116.5 L600.00,116.5 L600.25,116.5 L600.50,116.5 L600.75,116.5 L601.00,116.5 L601.25,116.5 L601.50,116.5 L601.75,116.5 L602.00,116.5 L602.25,116.5 L602.50,116.5 L602.75,116.5 L603.00,116.5 L603.25,116.5 L603.50,116.5 L603.75,116.5 L604.00,116.5 L604.25,116.5 L604.50,116.5 L604.75,116.5 L605.00,116.5 L605.25,116.5 L605.50,116.5 L605.75,116.5 L606.00,116.5 L606.25,116.5 L606.50,116.5 L606.75,116.5 L607.00,116.5 L607.25,116.5 L607.50,116.5 L607.75,116.6 L608.00,116.6 L608.25,116.6 L608.50,116.6 L608.75,116.6 L609.00,116.6 L609.25,116.6 L609.50,116.6 L609.75,116.6 L610.00,116.6 L610.25,116.6 L610.50,116.6 L610.75,116.7 L611.00,116.7 L611.25,116.7 L611.50,116.7 L611.75,116.7 L612.00,116.8 L612.25,116.8 L612.50,116.8 L612.75,116.8 L613.00,116.9 L613.25,116.9 L613.50,117.0 L613.75,117.1 L614.00,117.1 L614.25,117.2 L614.50,117.4 L614.75,117.5 L615.00,117.7 L615.25,118.0 L615.50,118.3 L615.75,118.8 L616.00,119.4 L616.25,120.0 L616.50,120.4 L616.75,120.5 L617.00,120.4 L617.25,120.5 L617.50,120.8 L617.75,121.5 L618.00,122.8 L618.25,124.9 L618.50,128.4 L618.75,134.0 L619.00,141.6 L619.25,147.2 L619.50,144.4 L619.75,136.7 L620.00,130.1 L620.25,125.7 L620.50,123.0 L620.75,121.3 L621.00,120.1 L621.25,119.3 L621.50,118.8 L621.75,118.4 L622.00,118.0 L622.25,117.8 L622.50,117.6 L622.75,117.4 L623.00,117.3 L623.25,117.2 L623.50,117.1 L623.75,117.1 L624.00,117.0 L624.25,116.9 L624.50,116.9 L624.75,116.9 L625.00,116.8 L625.25,116.8 L625.50,116.8 L625.75,116.7 L626.00,116.7 L626.25,116.7 L626.50,116.7 L626.75,116.7 L627.00,116.7 L627.25,116.6 L627.50,116.6 L627.75,116.6 L628.00,116.6 L628.25,116.6 L628.50,116.6 L628.75,116.6 L629.00,116.6 L629.25,116.6 L629.50,116.6 L629.75,116.6 L630.00,116.6 L630.25,116.5 L630.50,116.5 L630.75,116.5 L631.00,116.5 L631.25,116.5 L631.50,116.5 L631.75,116.5 L632.00,116.5 L632.25,116.5 L632.50,116.5 L632.75,116.5 L633.00,116.5 L633.25,116.5 L633.50,116.5 L633.75,116.5 L634.00,116.5 L634.25,116.5 L634.50,116.5 L634.75,116.5 L635.00,116.5 L635.25,116.5 L635.50,116.5 L635.75,116.5 L636.00,116.5 L636.25,116.5 L636.50,116.5 L636.75,116.5 L637.00,116.5 L637.25,116.5 L637.50,116.5 L637.75,116.5 L638.00,116.5 L638.25,116.5 L638.50,116.5 L638.75,116.5 L639.00,116.5 L639.25,116.5 L639.50,116.5 L639.75,116.5 L640.00,116.5 L640.25,116.5 L640.50,116.5 L640.75,116.5 L641.00,116.5 L641.25,116.6 L641.50,116.6 L641.75,116.6 L642.00,116.6 L642.25,116.6 L642.50,116.6 L642.75,116.6 L643.00,116.6 L643.25,116.6 L643.50,116.7 L643.75,116.7 L644.00,116.7 L644.25,116.7 L644.50,116.8 L644.75,116.8 L645.00,116.9 L645.25,117.0 L645.50,117.1 L645.75,117.2 L646.00,117.5 L646.25,117.7 L646.50,118.1 L646.75,118.6 L647.00,119.0 L647.25,119.1 L647.50,118.9 L647.75,118.4 L648.00,118.0 L648.25,117.7 L648.50,117.5 L648.75,117.3 L649.00,117.2 L649.25,117.1 L649.50,117.1 L649.75,117.0 L650.00,117.0 L650.25,117.0 L650.50,117.0 L650.75,117.1 L651.00,117.1 L651.25,117.1 L651.50,117.2 L651.75,117.3 L652.00,117.4 L652.25,117.5 L652.50,117.7 L652.75,117.9 L653.00,118.2 L653.25,118.6 L653.50,119.1 L653.75,119.8 L654.00,120.9 L654.25,122.6 L654.50,125.2 L654.75,129.4 L655.00,135.7 L655.25,142.2 L655.50,143.0 L655.75,137.1 L656.00,130.5 L656.25,125.9 L656.50,123.0 L656.75,121.2 L657.00,120.0 L657.25,119.2 L657.50,118.6 L657.75,118.2 L658.00,117.9 L658.25,117.7 L658.50,117.5 L658.75,117.3 L659.00,117.2 L659.25,117.1 L659.50,117.1 L659.75,117.0 L660.00,116.9 L660.25,116.9 L660.50,116.8 L660.75,116.8 L661.00,116.8 L661.25,116.7 L661.50,116.7 L661.75,116.7 L662.00,116.7 L662.25,116.7 L662.50,116.7 L662.75,116.6 L663.00,116.6 L663.25,116.6 L663.50,116.6 L663.75,116.6 L664.00,116.6 L664.25,116.6 L664.50,116.6 L664.75,116.6 L665.00,116.6 L665.25,116.6 L665.50,116.6 L665.75,116.5 L666.00,116.5 L666.25,116.5 L666.50,116.5 L666.75,116.5 L667.00,116.5 L667.25,116.5 L667.50,116.5 L667.75,116.5 L668.00,116.5 L668.25,116.5 L668.50,116.5 L668.75,116.5 L669.00,116.5 L669.25,116.5 L669.50,116.5 L669.75,116.5 L670.00,116.5 L670.25,116.5 L670.50,116.5 L670.75,116.5 L671.00,116.5 L671.25,116.5 L671.50,116.5 L671.75,116.5 L672.00,116.5 L672.25,116.5 L672.50,116.5 L672.75,116.5 L673.00,116.5 L673.25,116.5 L673.50,116.6 L673.75,116.6 L674.00,116.6 L674.25,116.6 L674.50,116.6 L674.75,116.6 L675.00,116.6 L675.25,116.6 L675.50,116.7 L675.75,116.7 L676.00,116.7 L676.25,116.8 L676.50,116.9 L676.75,117.0 L677.00,117.1 L677.25,117.3 L677.50,117.5 L677.75,117.8 L678.00,118.2 L678.25,118.7 L678.50,119.0 L678.75,118.9 L679.00,118.6 L679.25,118.1 L679.50,117.8 L679.75,117.5 L680.00,117.2 L680.25,117.1 L680.50,117.0 L680.75,116.9 L681.00,116.8 L681.25,116.8 L681.50,116.7 L681.75,116.7 L682.00,116.7 L682.25,116.7 L682.50,116.7 L682.75,116.7 L683.00,116.7 L683.25,116.7 L683.50,116.7 L683.75,116.7 L684.00,116.7 L684.25,116.7 L684.50,116.7 L684.75,116.7 L685.00,116.7 L685.25,116.7 L685.50,116.7 L685.75,116.7 L686.00,116.8 L686.25,116.8 L686.50,116.8 L686.75,116.9 L687.00,116.9 L687.25,117.0 L687.50,117.0 L687.75,117.1 L688.00,117.2 L688.25,117.3 L688.50,117.4 L688.75,117.6 L689.00,117.8 L689.25,118.1 L689.50,118.5 L689.75,119.1 L690.00,119.9 L690.25,121.2 L690.50,123.1 L690.75,126.1 L691.00,130.9 L691.25,137.0 L691.50,140.3 L691.75,137.0 L692.00,130.9 L692.25,126.1 L692.50,123.1 L692.75,121.2 L693.00,119.9 L693.25,119.1 L693.50,118.5 L693.75,118.1 L694.00,117.8 L694.25,117.6 L694.50,117.4 L694.75,117.3 L695.00,117.2 L695.25,117.1 L695.50,117.0 L695.75,116.9 L696.00,116.9 L696.25,116.8 L696.50,116.8 L696.75,116.8 L697.00,116.7 L697.25,116.7 L697.50,116.7 L697.75,116.7 L698.00,116.7 L698.25,116.6 L698.50,116.6 L698.75,116.6 L699.00,116.6 L699.25,116.6 L699.50,116.6 L699.75,116.6 L700.00,116.6 L700.25,116.6 L700.50,116.6 L700.75,116.6 L701.00,116.6 L701.25,116.6 L701.50,116.6 L701.75,116.6 L702.00,116.5 L702.25,116.5 L702.50,116.5 L702.75,116.5 L703.00,116.5 L703.25,116.5 L703.50,116.5 L703.75,116.6 L704.00,116.6 L704.25,116.6 L704.50,116.6 L704.75,116.6 L705.00,116.6 L705.25,116.6 L705.50,116.6 L705.75,116.6 L706.00,116.6 L706.25,116.6 L706.50,116.7 L706.75,116.7 L707.00,116.7 L707.25,116.8 L707.50,116.8 L707.75,116.9 L708.00,117.0 L708.25,117.2 L708.50,117.4 L708.75,117.7 L709.00,118.0 L709.25,118.5 L709.50,118.9 L709.75,119.0 L710.00,118.7 L710.25,118.3 L710.50,117.9 L710.75,117.5 L711.00,117.3 L711.25,117.1 L711.50,117.0 L711.75,116.9 L712.00,116.8 L712.25,116.8 L712.50,116.7 L712.75,116.7 L713.00,116.7 L713.25,116.6 L713.50,116.6 L713.75,116.6 L714.00,116.6 L714.25,116.6 L714.50,116.6 L714.75,116.6 L715.00,116.6 L715.25,116.6 L715.50,116.6 L715.75,116.5 L716.00,116.5 L716.25,116.5 L716.50,116.5 L716.75,116.5 L717.00,116.5 L717.25,116.5 L717.50,116.5 L717.75,116.6 L718.00,116.6 L718.25,116.6 L718.50,116.6 L718.75,116.6 L719.00,116.6 L719.25,116.6 L719.50,116.6 L719.75,116.6 L720.00,116.6 L720.25,116.6 L720.50,116.6 L720.75,116.6 L721.00,116.6 L721.25,116.7 L721.50,116.7 L721.75,116.7 L722.00,116.7 L722.25,116.8 L722.50,116.8 L722.75,116.8 L723.00,116.9 L723.25,116.9 L723.50,117.0 L723.75,117.1 L724.00,117.2 L724.25,117.3 L724.50,117.4 L724.75,117.6 L725.00,117.9 L725.25,118.2 L725.50,118.7 L725.75,119.4 L726.00,120.4 L726.25,121.9 L726.50,124.4 L726.75,128.2 L727.00,133.5 L727.25,137.4 L727.50,135.6 L727.75,130.3 L728.00,125.7 L728.25,122.7 L728.50,120.9 L728.75,119.7 L729.00,118.9 L729.25,118.4 L729.50,118.0 L729.75,117.7 L730.00,117.5 L730.25,117.3 L730.50,117.2 L730.75,117.1 L731.00,117.0 L731.25,117.0 L731.50,116.9 L731.75,116.9 L732.00,116.8 L732.25,116.8 L732.50,116.8 L732.75,116.7 L733.00,116.7 L733.25,116.7 L733.50,116.7 L733.75,116.7 L734.00,116.7 L734.25,116.6 L734.50,116.6 L734.75,116.6 L735.00,116.6 L735.25,116.6 L735.50,116.6 L735.75,116.6 L736.00,116.6 L736.25,116.6 L736.50,116.6 L736.75,116.7 L737.00,116.7 L737.25,116.7 L737.50,116.7 L737.75,116.7 L738.00,116.8 L738.25,116.8 L738.50,116.9 L738.75,117.0 L739.00,117.2 L739.25,117.3 L739.50,117.6 L739.75,118.0 L740.00,118.4 L740.25,118.8 L740.50,119.0 L740.75,118.8 L741.00,118.4 L741.25,117.9 L741.50,117.6 L741.75,117.3 L742.00,117.1 L742.25,117.0 L742.50,116.9 L742.75,116.8 L743.00,116.8 L743.25,116.7 L743.50,116.7 L743.75,116.6 L744.00,116.6 L744.25,116.6 L744.50,116.6 L744.75,116.6 L745.00,116.6 L745.25,116.6 L745.50,116.5 L745.75,116.5 L746.00,116.5 L746.25,116.5 L746.50,116.5 L746.75,116.5 L747.00,116.5 L747.25,116.5 L747.50,116.5 L747.75,116.5 L748.00,116.5 L748.25,116.5 L748.50,116.5 L748.75,116.5 L749.00,116.5 L749.25,116.5 L749.50,116.5 L749.75,116.5 L750.00,116.5 L750.25,116.5 L750.50,116.5 L750.75,116.5 L751.00,116.5 L751.25,116.5 L751.50,116.5 L751.75,116.5 L752.00,116.5 L752.25,116.5 L752.50,116.5 L752.75,116.5 L753.00,116.5 L753.25,116.5 L753.50,116.5 L753.75,116.5 L754.00,116.5 L754.25,116.5 L754.50,116.5 L754.75,116.5 L755.00,116.6 L755.25,116.6 L755.50,116.6 L755.75,116.6 L756.00,116.6 L756.25,116.6 L756.50,116.6 L756.75,116.6 L757.00,116.6 L757.25,116.6 L757.50,116.7 L757.75,116.7 L758.00,116.7 L758.25,116.7 L758.50,116.8 L758.75,116.8 L759.00,116.8 L759.25,116.9 L759.50,117.0 L759.75,117.0 L760.00,117.1 L760.25,117.2 L760.50,117.4 L760.75,117.6 L761.00,117.8 L761.25,118.1 L761.50,118.6 L761.75,119.2 L762.00,120.1 L762.25,121.6 L762.50,123.9 L762.75,127.6 L763.00,132.6 L763.25,136.2 L763.50,134.5 L763.75,129.5 L764.00,125.2 L764.25,122.4 L764.50,120.7 L764.75,119.6 L765.00,118.8 L765.25,118.3 L765.50,118.0 L765.75,117.7 L766.00,117.6 L766.25,117.4 L766.50,117.3 L766.75,117.2 L767.00,117.2 L767.25,117.2 L767.50,117.2 L767.75,117.2 L768.00,117.3 L768.25,117.4 L768.50,117.5 L768.75,117.7 L769.00,118.1 L769.25,118.5 L769.50,118.9 L769.75,119.1 L770.00,119.0 L770.25,118.6 L770.50,118.1 L770.75,117.7 L771.00,117.5 L771.25,117.2 L771.50,117.1 L771.75,117.0 L772.00,116.9 L772.25,116.8 L772.50,116.8 L772.75,116.7 L773.00,116.7 L773.25,116.7 L773.50,116.6 L773.75,116.6 L774.00,116.6 L774.25,116.6 L774.50,116.6 L774.75,116.6 L775.00,116.6 L775.25,116.5 L775.50,116.5 L775.75,116.5 L776.00,116.5 L776.25,116.5 L776.50,116.5 L776.75,116.5 L777.00,116.5 L777.25,116.5 L777.50,116.5 L777.75,116.5 L778.00,116.5 L778.25,116.5 L778.50,116.5 L778.75,116.5 L779.00,116.5 L779.25,116.5 L779.50,116.5 L779.75,116.5 L780.00,116.5 L780.25,116.5 L780.50,116.5 L780.75,116.5 L781.00,116.5 L781.25,116.5 L781.50,116.5 L781.75,116.5 L782.00,116.5 L782.25,116.5 L782.50,116.5 L782.75,116.5 L783.00,116.5 L783.25,116.5 L783.50,116.5 L783.75,116.5 L784.00,116.5 L784.25,116.5 L784.50,116.5 L784.75,116.5 L785.00,116.5 L785.25,116.5 L785.50,116.5 L785.75,116.5 L786.00,116.5 L786.25,116.5 L786.50,116.5 L786.75,116.5 L787.00,116.5 L787.25,116.5 L787.50,116.5 L787.75,116.5 L788.00,116.5 L788.25,116.5 L788.50,116.5 L788.75,116.5 L789.00,116.5 L789.25,116.5 L789.50,116.5 L789.75,116.5 L790.00,116.5 L790.25,116.5 L790.50,116.6 L790.75,116.6 L791.00,116.6 L791.25,116.6 L791.50,116.6 L791.75,116.6 L792.00,116.6 L792.25,116.6 L792.50,116.7 L792.75,116.7 L793.00,116.7 L793.25,116.8 L793.50,116.8 L793.75,116.8 L794.00,116.9 L794.25,117.0 L794.50,117.1 L794.75,117.2 L795.00,117.3 L795.25,117.5 L795.50,117.7 L795.75,118.1 L796.00,118.6 L796.25,119.3 L796.50,120.5 L796.75,122.3 L797.00,125.1 L797.25,128.7 L797.50,130.8 L797.75,128.8 L798.00,125.3 L798.25,122.5 L798.50,120.8 L798.75,119.8 L799.00,119.3 L799.25,119.1 L799.50,119.1 L799.75,119.2 L800.00,119.5 L800.25,119.6 L800.50,119.4 L800.75,118.9 L801.00,118.4 L801.25,118.0 L801.50,117.6 L801.75,117.4 L802.00,117.2 L802.25,117.1 L802.50,117.0 L802.75,116.9 L803.00,116.8 L803.25,116.8 L803.50,116.8 L803.75,116.7 L804.00,116.7 L804.25,116.7 L804.50,116.6 L804.75,116.6 L805.00,116.6 L805.25,116.6 L805.50,116.6 L805.75,116.6 L806.00,116.6 L806.25,116.5 L806.50,116.5 L806.75,116.5 L807.00,116.5 L807.25,116.5 L807.50,116.5 L807.75,116.5 L808.00,116.5 L808.25,116.5 L808.50,116.5 L808.75,116.5 L809.00,116.5 L809.25,116.5 L809.50,116.5 L809.75,116.5 L810.00,116.5 L810.25,116.5 L810.50,116.5 L810.75,116.5 L811.00,116.5 L811.25,116.5 L811.50,116.5 L811.75,116.5 L812.00,116.5 L812.25,116.5 L812.50,116.5 L812.75,116.5 L813.00,116.5 L813.25,116.5 L813.50,116.5 L813.75,116.5 L814.00,116.5 L814.25,116.5 L814.50,116.5 L814.75,116.5 L815.00,116.4 L815.25,116.4 L815.50,116.4 L815.75,116.4 L816.00,116.4 L816.25,116.4 L816.50,116.4 L816.75,116.4 L817.00,116.4 L817.25,116.4 L817.50,116.4 L817.75,116.4 L818.00,116.4 L818.25,116.4 L818.50,116.4 L818.75,116.4 L819.00,116.4 L819.25,116.4 L819.50,116.4 L819.75,116.4 L820.00,116.4 L820.25,116.5 L820.50,116.5 L820.75,116.5 L821.00,116.5 L821.25,116.5 L821.50,116.5 L821.75,116.5 L822.00,116.5 L822.25,116.5 L822.50,116.5 L822.75,116.5 L823.00,116.5 L823.25,116.5 L823.50,116.5 L823.75,116.5 L824.00,116.5 L824.25,116.5 L824.50,116.5 L824.75,116.5 L825.00,116.5 L825.25,116.5 L825.50,116.5 L825.75,116.5 L826.00,116.5 L826.25,116.5 L826.50,116.5 L826.75,116.5 L827.00,116.5 L827.25,116.5 L827.50,116.6 L827.75,116.6 L828.00,116.6 L828.25,116.6 L828.50,116.6 L828.75,116.7 L829.00,116.7 L829.25,116.7 L829.50,116.8 L829.75,116.9 L830.00,116.9 L830.25,117.1 L830.50,117.2 L830.75,117.4 L831.00,117.7 L831.25,118.1 L831.50,118.8 L831.75,119.8 L832.00,121.5 L832.25,123.8 L832.50,126.0 L832.75,125.7 L833.00,123.3 L833.25,121.1 L833.50,119.6 L833.75,118.6 L834.00,118.0 L834.25,117.6 L834.50,117.4 L834.75,117.2 L835.00,117.0 L835.25,116.9 L835.50,116.8 L835.75,116.8 L836.00,116.7 L836.25,116.7 L836.50,116.7 L836.75,116.6 L837.00,116.6 L837.25,116.6 L837.50,116.6 L837.75,116.6 L838.00,116.5 L838.25,116.5 L838.50,116.5 L838.75,116.5 L839.00,116.5 L839.25,116.5 L839.50,116.5 L839.75,116.5 L840.00,116.5 L840.25,116.5 L840.50,116.5 L840.75,116.5 L841.00,116.5 L841.25,116.5 L841.50,116.5 L841.75,116.5 L842.00,116.5 L842.25,116.5 L842.50,116.5 L842.75,116.5 L843.00,116.5 L843.25,116.5 L843.50,116.5 L843.75,116.5 L844.00,116.5 L844.25,116.4 L844.50,116.4 L844.75,116.4 L845.00,116.4 L845.25,116.4 L845.50,116.4 L845.75,116.4 L846.00,116.4 L846.25,116.4 L846.50,116.4 L846.75,116.4 L847.00,116.4 L847.25,116.4 L847.50,116.4 L847.75,116.4 L848.00,116.4 L848.25,116.4 L848.50,116.4 L848.75,116.4 L849.00,116.4 L849.25,116.4 L849.50,116.4 L849.75,116.4 L850.00,116.4 L850.25,116.4 L850.50,116.5 L850.75,116.5 L851.00,116.5 L851.25,116.5 L851.50,116.5 L851.75,116.5 L852.00,116.5 L852.25,116.5 L852.50,116.5 L852.75,116.5 L853.00,116.5 L853.25,116.5 L853.50,116.5 L853.75,116.5 L854.00,116.5 L854.25,116.5 L854.50,116.5 L854.75,116.5 L855.00,116.5 L855.25,116.5 L855.50,116.5 L855.75,116.5 L856.00,116.6 L856.25,116.6 L856.50,116.6 L856.75,116.6 L857.00,116.6 L857.25,116.7 L857.50,116.7 L857.75,116.8 L858.00,116.9 L858.25,117.0 L858.50,117.1 L858.75,117.3 L859.00,117.6 L859.25,117.9 L859.50,118.4 L859.75,118.8 L860.00,119.0 L860.25,118.8 L860.50,118.4 L860.75,117.9 L861.00,117.6 L861.25,117.3 L861.50,117.1 L861.75,117.0 L862.00,116.9 L862.25,116.8 L862.50,116.8 L862.75,116.8 L863.00,116.7 L863.25,116.7 L863.50,116.7 L863.75,116.7 L864.00,116.7 L864.25,116.8 L864.50,116.8 L864.75,116.8 L865.00,116.9 L865.25,117.0 L865.50,117.2 L865.75,117.4 L866.00,117.7 L866.25,118.3 L866.50,119.1 L866.75,120.4 L867.00,121.5 L867.25,121.4 L867.50,120.1 L867.75,118.9 L868.00,118.1 L868.25,117.6 L868.50,117.3 L868.75,117.1 L869.00,116.9 L869.25,116.8 L869.50,116.8 L869.75,116.7 L870.00,116.7 L870.25,116.6 L870.50,116.6 L870.75,116.6 L871.00,116.6 L871.25,116.5 L871.50,116.5 L871.75,116.5 L872.00,116.5 L872.25,116.5 L872.50,116.5 L872.75,116.5 L873.00,116.5 L873.25,116.5 L873.50,116.5 L873.75,116.5 L874.00,116.5 L874.25,116.5 L874.50,116.5 L874.75,116.5 L875.00,116.5 L875.25,116.5 L875.50,116.5 L875.75,116.5 L876.00,116.5 L876.25,116.4 L876.50,116.4 L876.75,116.4 L877.00,116.4 L877.25,116.4 L877.50,116.4 L877.75,116.4 L878.00,116.4 L878.25,116.4 L878.50,116.4 L878.75,116.4 L879.00,116.4 L879.25,116.4 L879.50,116.4 L879.75,116.4 L880.00,116.4 L880.25,116.4 L880.50,116.4 L880.75,116.4 L881.00,116.4 L881.25,116.4 L881.50,116.4 L881.75,116.4 L882.00,116.5 L882.25,116.5 L882.50,116.5 L882.75,116.5 L883.00,116.5 L883.25,116.5 L883.50,116.5 L883.75,116.5 L884.00,116.5 L884.25,116.5 L884.50,116.5 L884.75,116.5 L885.00,116.5 L885.25,116.5 L885.50,116.5 L885.75,116.5 L886.00,116.6 L886.25,116.6 L886.50,116.6 L886.75,116.6 L887.00,116.7 L887.25,116.7 L887.50,116.8 L887.75,116.9 L888.00,117.1 L888.25,117.4 L888.50,117.8 L888.75,118.4 L889.00,119.4 L889.25,120.4 L889.50,120.5 L889.75,119.6 L890.00,118.6 L890.25,117.9 L890.50,117.4 L890.75,117.1 L891.00,117.0 L891.25,116.8 L891.50,116.8 L891.75,116.7 L892.00,116.6 L892.25,116.6 L892.50,116.6 L892.75,116.6 L893.00,116.5 L893.25,116.5 L893.50,116.5 L893.75,116.5 L894.00,116.5 L894.25,116.5 L894.50,116.5 L894.75,116.5 L895.00,116.5 L895.25,116.5 L895.50,116.5 L895.75,116.5 L896.00,116.4 L896.25,116.4 L896.50,116.4 L896.75,116.4 L897.00,116.4 L897.25,116.4 L897.50,116.4 L897.75,116.4 L898.00,116.4 L898.25,116.4 L898.50,116.4 L898.75,116.4 L899.00,116.4 L899.25,116.4 L899.50,116.4 L899.75,116.4 L900.00,116.4 L900.25,116.4 L900.50,116.4 L900.75,116.4 L901.00,116.4 L901.25,116.4 L901.50,116.4 L901.75,116.4 L902.00,116.4 L902.25,116.4 L902.50,116.4 L902.75,116.4 L903.00,116.4 L903.25,116.4 L903.50,116.4 L903.75,116.4 L904.00,116.4 L904.25,116.4 L904.50,116.4 L904.75,116.4 L905.00,116.4 L905.25,116.4 L905.50,116.4 L905.75,116.4 L906.00,116.4 L906.25,116.4 L906.50,116.4 L906.75,116.4 L907.00,116.4 L907.25,116.4 L907.50,116.4 L907.75,116.4 L908.00,116.4 L908.25,116.4 L908.50,116.4 L908.75,116.4 L909.00,116.4 L909.25,116.4 L909.50,116.4 L909.75,116.4 L910.00,116.4 L910.25,116.4 L910.50,116.4 L910.75,116.4 L911.00,116.4 L911.25,116.4 L911.50,116.4 L911.75,116.5 L912.00,116.5 L912.25,116.5 L912.50,116.5 L912.75,116.5 L913.00,116.5 L913.25,116.5 L913.50,116.5 L913.75,116.5 L914.00,116.5 L914.25,116.5 L914.50,116.5 L914.75,116.5 L915.00,116.6 L915.25,116.6 L915.50,116.6 L915.75,116.7 L916.00,116.7 L916.25,116.8 L916.50,116.9 L916.75,117.1 L917.00,117.3 L917.25,117.7 L917.50,118.3 L917.75,119.2 L918.00,120.2 L918.25,120.6 L918.50,119.8 L918.75,118.8 L919.00,118.0 L919.25,117.5 L919.50,117.2 L919.75,117.0 L920.00,116.9 L920.25,116.8 L920.50,116.7 L920.75,116.6 L921.00,116.6 L921.25,116.6 L921.50,116.6 L921.75,116.5 L922.00,116.5 L922.25,116.5 L922.50,116.5 L922.75,116.5 L923.00,116.5 L923.25,116.5 L923.50,116.5 L923.75,116.5 L924.00,116.5 L924.25,116.5 L924.50,116.5 L924.75,116.5 L925.00,116.5 L925.25,116.5 L925.50,116.5 L925.75,116.5 L926.00,116.5 L926.25,116.5 L926.50,116.5 L926.75,116.5 L927.00,116.5 L927.25,116.5 L927.50,116.5 L927.75,116.5 L928.00,116.5 L928.25,116.5 L928.50,116.5 L928.75,116.5 L929.00,116.5 L929.25,116.5 L929.50,116.5 L929.75,116.5 L930.00,116.5 L930.25,116.5 L930.50,116.5 L930.75,116.5 L931.00,116.5 L931.25,116.5 L931.50,116.5 L931.75,116.5 L932.00,116.5 L932.25,116.5 L932.50,116.6 L932.75,116.6 L933.00,116.6 L933.25,116.7 L933.50,116.7 L933.75,116.8 L934.00,116.9 L934.25,117.0 L934.50,117.2 L934.75,117.5 L935.00,118.0 L935.25,118.8 L935.50,119.8 L935.75,120.6 L936.00,120.2 L936.25,119.2 L936.50,118.3 L936.75,117.7 L937.00,117.3 L937.25,117.1 L937.50,116.9 L937.75,116.8 L938.00,116.7 L938.25,116.7 L938.50,116.6 L938.75,116.6 L939.00,116.6 L939.25,116.6 L939.50,116.5 L939.75,116.5 L940.00,116.5 L940.25,116.5 L940.50,116.5 L940.75,116.5 L941.00,116.5 L941.25,116.5 L941.50,116.5 L941.75,116.5 L942.00,116.5 L942.25,116.5 L942.50,116.5 L942.75,116.5 L943.00,116.5 L943.25,116.5 L943.50,116.5 L943.75,116.6 L944.00,116.6 L944.25,116.6 L944.50,116.6 L944.75,116.7 L945.00,116.7 L945.25,116.8 L945.50,116.9 L945.75,117.1 L946.00,117.3 L946.25,117.7 L946.50,118.3 L946.75,119.2 L947.00,120.2 L947.25,120.6 L947.50,119.8 L947.75,118.8 L948.00,118.0 L948.25,117.5 L948.50,117.2 L948.75,117.0 L949.00,116.9 L949.25,116.8 L949.50,116.7 L949.75,116.6 L950.00,116.6 L950.25,116.6 L950.50,116.6 L950.75,116.5 L951.00,116.5 L951.25,116.5 L951.50,116.5 L951.75,116.5 L952.00,116.5 L952.25,116.5 L952.50,116.5 L952.75,116.5 L953.00,116.5 L953.25,116.5 L953.50,116.4 L953.75,116.4 L954.00,116.4 L954.25,116.4 L954.50,116.4 L954.75,116.4 L955.00,116.4 L955.25,116.4 L955.50,116.4 L955.75,116.4 L956.00,116.4 L956.25,116.4 L956.50,116.4 L956.75,116.4 L957.00,116.4 L957.25,116.4 L957.50,116.4 L957.75,116.4 L958.00,116.4 L958.25,116.4 L958.50,116.4 L958.75,116.4 L959.00,116.4 L959.25,116.4 L959.50,116.4 L959.75,116.4 L960.00,116.4 L960.25,116.4 L960.50,116.4 L960.75,116.4 L961.00,116.4 L961.25,116.4 L961.50,116.4 L961.75,116.4 L962.00,116.4" stroke="#ff0000" stroke-width="1.5"/>
</g>
</svg>
<div class="t c" style="left:503.5px;top:10.2px;letter-spacing:-0.08px">Idler wavelength [nm]</div>
<div class="t c" style="left:239.5px;top:49px">4530</div>
<div class="t c" style="left:439.7px;top:49px">4520</div>
<div class="t c" style="left:639.9px;top:49px">4510</div>
<div class="t c" style="left:840.1px;top:49px">4500</div>
<div class="t c" style="left:119px;top:707.5px">1390</div>
<div class="t c" style="left:329px;top:707.5px">1391</div>
<div class="t c" style="left:540px;top:707.5px">1392</div>
<div class="t c" style="left:751px;top:707.5px">1393</div>
<div class="t c" style="left:961.5px;top:707.5px">1394</div>
<div class="t c" style="left:530.7px;top:741.6px;letter-spacing:-0.11px">Signal wavelength [nm]</div>
<div class="t" style="left:966.5px;top:99.5px">1</div>
<div class="t" style="left:966.5px;top:683px">0.6</div>
<div class="t" style="left:27px;top:389px;letter-spacing:0.25px;transform:translate(-50%,-50%) rotate(-90deg) scaleY(1.04)">Output [a.u.]</div>
<div class="t" style="left:997.5px;top:400.4px;letter-spacing:0.4px;transform:translate(-50%,-50%) rotate(90deg) scaleY(1.04)">Transmittance</div>
<div class="dot" style="left:107.1px;background:#00ffff"></div><div class="leg" style="left:127.8px;color:#00ffff">LN 22<span class="deg">o</span>C</div>
<div class="dot" style="left:280.6px;background:#0080ff"></div><div class="leg" style="left:300.4px;color:#0080ff">LN 30<span class="deg">o</span>C</div>
<div class="dot" style="left:414.1px;background:#c080ff"></div><div class="leg" style="left:433.4px;color:#c080ff">LN 35<span class="deg">o</span>C</div>
<div class="dot" style="left:543.5px;background:#ffc000"></div><div class="leg" style="left:563.5px;color:#ffc000">LN 40<span class="deg">o</span>C</div>
<div class="dot" style="left:675.5px;background:#00aa20"></div><div class="leg" style="left:695.6px;color:#00aa20">LN 45<span class="deg">o</span>C</div>
<div class="dot" style="left:806.7px;background:#99cc18"></div><div class="leg" style="left:827.5px;color:#99cc18">LN 50<span class="deg">o</span>C</div>
</body></html>
